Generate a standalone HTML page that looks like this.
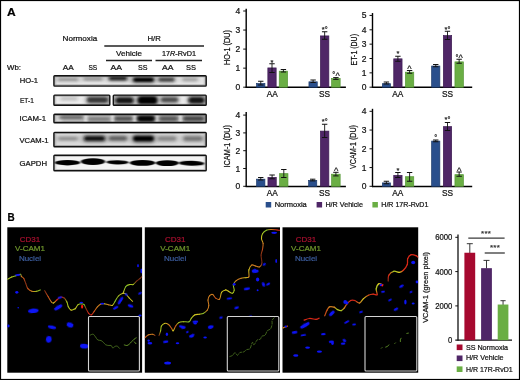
<!DOCTYPE html>
<html lang="en"><head><meta charset="utf-8"><title>Figure</title>
<style>html,body{margin:0;padding:0;background:#fff;}body{width:520px;height:380px;overflow:hidden;}svg{display:block;}text{font-family:"Liberation Sans",sans-serif;stroke-width:0.22px;}</style>
</head><body>
<svg width="520" height="380" viewBox="0 0 520 380">
<defs>
<filter id="b1" x="-20%" y="-50%" width="140%" height="200%"><feGaussianBlur stdDeviation="1.6 0.9"/></filter>
<filter id="b2" x="-20%" y="-50%" width="140%" height="200%"><feGaussianBlur stdDeviation="1.0 0.6"/></filter>
<filter id="b3" x="-20%" y="-50%" width="140%" height="200%"><feGaussianBlur stdDeviation="2.2 1.2"/></filter>
<filter id="bn" x="-30%" y="-30%" width="160%" height="160%"><feGaussianBlur stdDeviation="0.5"/></filter>
<filter id="bw" x="-10%" y="-10%" width="120%" height="120%"><feGaussianBlur stdDeviation="0.35"/></filter>
</defs>
<rect x="0.00" y="0.00" width="520.00" height="380.00" fill="#fff" />
<text x="7.0" y="16.2" font-size="11.6" font-weight="bold" fill="#000" stroke="#000" stroke-width="0.45" textLength="8.7" lengthAdjust="spacingAndGlyphs">A</text>
<text x="62.60" y="41.00" font-size="7.5" fill="#111" stroke="#111" textLength="34.60" lengthAdjust="spacingAndGlyphs" >Normoxia</text>
<text x="147.50" y="41.00" font-size="7.5" fill="#111" stroke="#111" textLength="13.30" lengthAdjust="spacingAndGlyphs" >H/R</text>
<line x1="104.30" y1="45.90" x2="204.00" y2="45.90" stroke="#222" stroke-width="1.5"/>
<text x="116.00" y="56.00" font-size="7.5" fill="#111" stroke="#111" textLength="26.00" lengthAdjust="spacingAndGlyphs" >Vehicle</text>
<text x="162" y="56" font-size="7.5" fill="#111" stroke="#111" textLength="34" lengthAdjust="spacingAndGlyphs">17<tspan font-style="italic">R</tspan>-RvD1</text>
<line x1="106.00" y1="60.50" x2="152.00" y2="60.50" stroke="#222" stroke-width="1.3"/>
<line x1="155.50" y1="60.50" x2="202.00" y2="60.50" stroke="#222" stroke-width="1.3"/>
<text x="7.00" y="70.30" font-size="7.5" fill="#111" stroke="#111" textLength="14.00" lengthAdjust="spacingAndGlyphs" >Wb:</text>
<text x="62.80" y="70.30" font-size="7.5" fill="#111" stroke="#111" textLength="11.00" lengthAdjust="spacingAndGlyphs" >AA</text>
<text x="88.40" y="70.30" font-size="7.5" fill="#111" stroke="#111" textLength="8.80" lengthAdjust="spacingAndGlyphs" >SS</text>
<text x="110.50" y="70.30" font-size="7.5" fill="#111" stroke="#111" textLength="11.50" lengthAdjust="spacingAndGlyphs" >AA</text>
<text x="138.00" y="70.30" font-size="7.5" fill="#111" stroke="#111" textLength="9.50" lengthAdjust="spacingAndGlyphs" >SS</text>
<text x="162.00" y="70.30" font-size="7.5" fill="#111" stroke="#111" textLength="11.50" lengthAdjust="spacingAndGlyphs" >AA</text>
<text x="186.00" y="70.30" font-size="7.5" fill="#111" stroke="#111" textLength="10.00" lengthAdjust="spacingAndGlyphs" >SS</text>
<text x="19.80" y="82.90" font-size="7.5" fill="#111" stroke="#111" textLength="18.20" lengthAdjust="spacingAndGlyphs" >HO-1</text>
<text x="20.00" y="102.90" font-size="7.5" fill="#111" stroke="#111" textLength="13.80" lengthAdjust="spacingAndGlyphs" >ET-1</text>
<text x="19.50" y="121.20" font-size="7.5" fill="#111" stroke="#111" textLength="26.50" lengthAdjust="spacingAndGlyphs" >ICAM-1</text>
<text x="19.50" y="143.00" font-size="7.5" fill="#111" stroke="#111" textLength="29.00" lengthAdjust="spacingAndGlyphs" >VCAM-1</text>
<text x="19.50" y="165.50" font-size="7.5" fill="#111" stroke="#111" textLength="27.50" lengthAdjust="spacingAndGlyphs" >GAPDH</text>
<clipPath id="cho"><rect x="53.9" y="75.8" width="152.29999999999998" height="10.3" rx="0.8"/></clipPath>
<rect x="53.9" y="75.8" width="152.29999999999998" height="10.3" rx="0.8" fill="#e6e6e6"/>
<g clip-path="url(#cho)">
<rect x="55.50" y="76.40" width="25.00" height="6.00" rx="3.00" fill="#444" opacity="0.15" filter="url(#b3)"/>
<rect x="58.00" y="77.90" width="20.00" height="3.00" rx="1.50" fill="#555" opacity="0.42" filter="url(#b1)"/>
<rect x="81.12" y="76.20" width="23.75" height="5.60" rx="2.80" fill="#444" opacity="0.16" filter="url(#b3)"/>
<rect x="83.50" y="77.60" width="19.00" height="2.80" rx="1.40" fill="#555" opacity="0.45" filter="url(#b1)"/>
<rect x="106.75" y="74.60" width="22.50" height="7.60" rx="3.80" fill="#444" opacity="0.32" filter="url(#b3)"/>
<rect x="109.00" y="76.50" width="18.00" height="3.80" rx="1.90" fill="#111" opacity="0.9" filter="url(#b1)"/>
<rect x="130.38" y="75.20" width="26.25" height="9.20" rx="4.60" fill="#444" opacity="0.35" filter="url(#b3)"/>
<rect x="133.00" y="77.50" width="21.00" height="4.60" rx="2.30" fill="#000" opacity="1" filter="url(#b1)"/>
<rect x="156.50" y="76.00" width="20.00" height="7.20" rx="3.60" fill="#444" opacity="0.28" filter="url(#b3)"/>
<rect x="158.50" y="77.80" width="16.00" height="3.60" rx="1.80" fill="#222" opacity="0.8" filter="url(#b1)"/>
<rect x="180.62" y="76.40" width="18.75" height="6.00" rx="3.00" fill="#444" opacity="0.14" filter="url(#b3)"/>
<rect x="182.50" y="77.90" width="15.00" height="3.00" rx="1.50" fill="#666" opacity="0.4" filter="url(#b1)"/>
<rect x="53.9" y="75.8" width="152.29999999999998" height="10.3" rx="0.8" fill="none" stroke="#222" stroke-width="3" opacity="0.35" filter="url(#b2)"/>
</g>
<rect x="53.9" y="75.8" width="152.29999999999998" height="10.3" rx="0.8" fill="none" stroke="#111" stroke-width="1.4"/>
<clipPath id="cet1"><rect x="53.9" y="95.1" width="55.9" height="10.2" rx="0.8"/></clipPath>
<rect x="53.9" y="95.1" width="55.9" height="10.2" rx="0.8" fill="#efefef"/>
<g clip-path="url(#cet1)">
<rect x="59.00" y="95.80" width="20.00" height="6.00" rx="3.00" fill="#444" opacity="0.10" filter="url(#b3)"/>
<rect x="61.00" y="97.30" width="16.00" height="3.00" rx="1.50" fill="#888" opacity="0.3" filter="url(#b1)"/>
<rect x="84.38" y="94.30" width="26.25" height="11.20" rx="5.60" fill="#444" opacity="0.30" filter="url(#b3)"/>
<rect x="87.00" y="97.10" width="21.00" height="5.60" rx="2.80" fill="#222" opacity="0.85" filter="url(#b1)"/>
<rect x="53.9" y="95.1" width="55.9" height="10.2" rx="0.8" fill="none" stroke="#222" stroke-width="3" opacity="0.35" filter="url(#b2)"/>
</g>
<rect x="53.9" y="95.1" width="55.9" height="10.2" rx="0.8" fill="none" stroke="#111" stroke-width="1.4"/>
<clipPath id="cet2"><rect x="113.3" y="95.1" width="92.89999999999999" height="10.2" rx="0.8"/></clipPath>
<rect x="113.3" y="95.1" width="92.89999999999999" height="10.2" rx="0.8" fill="#eeeeee"/>
<g clip-path="url(#cet2)">
<rect x="113.25" y="94.00" width="22.50" height="12.80" rx="6.40" fill="#444" opacity="0.33" filter="url(#b3)"/>
<rect x="115.50" y="97.20" width="18.00" height="6.40" rx="3.20" fill="#111" opacity="0.95" filter="url(#b1)"/>
<rect x="135.00" y="92.40" width="25.00" height="15.60" rx="7.80" fill="#444" opacity="0.35" filter="url(#b3)"/>
<rect x="137.50" y="96.30" width="20.00" height="7.80" rx="3.90" fill="#000" opacity="1" filter="url(#b1)"/>
<rect x="158.88" y="94.80" width="21.25" height="10.00" rx="5.00" fill="#444" opacity="0.28" filter="url(#b3)"/>
<rect x="161.00" y="97.30" width="17.00" height="5.00" rx="2.50" fill="#333" opacity="0.8" filter="url(#b1)"/>
<rect x="186.50" y="93.60" width="20.00" height="13.20" rx="6.60" fill="#444" opacity="0.33" filter="url(#b3)"/>
<rect x="188.50" y="96.90" width="16.00" height="6.60" rx="3.30" fill="#111" opacity="0.95" filter="url(#b1)"/>
<rect x="113.3" y="95.1" width="92.89999999999999" height="10.2" rx="0.8" fill="none" stroke="#222" stroke-width="3" opacity="0.35" filter="url(#b2)"/>
</g>
<rect x="113.3" y="95.1" width="92.89999999999999" height="10.2" rx="0.8" fill="none" stroke="#111" stroke-width="1.4"/>
<clipPath id="cic"><rect x="53.9" y="114.3" width="152.29999999999998" height="8.4" rx="0.8"/></clipPath>
<rect x="53.9" y="114.3" width="152.29999999999998" height="8.4" rx="0.8" fill="#c2c2c2"/>
<g clip-path="url(#cic)">
<rect x="84.30000000000001" y="113" width="3.2" height="11" fill="#f4f4f4" opacity="0.9" filter="url(#b2)"/>
<rect x="111.10000000000001" y="113" width="3.2" height="11" fill="#f4f4f4" opacity="0.9" filter="url(#b2)"/>
<rect x="133.1" y="113" width="3.2" height="11" fill="#f4f4f4" opacity="0.9" filter="url(#b2)"/>
<rect x="155.20000000000002" y="113" width="3.2" height="11" fill="#f4f4f4" opacity="0.9" filter="url(#b2)"/>
<rect x="178.9" y="113" width="3.2" height="11" fill="#f4f4f4" opacity="0.9" filter="url(#b2)"/>
<rect x="53" y="113" width="9" height="11" fill="#f0f0f0" opacity="0.7" filter="url(#b1)"/>
<rect x="56.00" y="114.00" width="30.00" height="6.80" rx="3.40" fill="#444" opacity="0.11" filter="url(#b3)"/>
<rect x="59.00" y="115.70" width="24.00" height="3.40" rx="1.70" fill="#333" opacity="0.55" filter="url(#b1)"/>
<rect x="85.25" y="115.40" width="27.50" height="7.20" rx="3.60" fill="#444" opacity="0.10" filter="url(#b3)"/>
<rect x="88.00" y="117.20" width="22.00" height="3.60" rx="1.80" fill="#444" opacity="0.5" filter="url(#b1)"/>
<rect x="112.25" y="114.20" width="22.50" height="8.80" rx="4.40" fill="#444" opacity="0.14" filter="url(#b3)"/>
<rect x="114.50" y="116.40" width="18.00" height="4.40" rx="2.20" fill="#2a2a2a" opacity="0.7" filter="url(#b1)"/>
<rect x="134.75" y="112.40" width="22.50" height="12.40" rx="6.20" fill="#444" opacity="0.19" filter="url(#b3)"/>
<rect x="137.00" y="115.50" width="18.00" height="6.20" rx="3.10" fill="#000" opacity="0.97" filter="url(#b1)"/>
<rect x="156.62" y="114.00" width="23.75" height="9.20" rx="4.60" fill="#444" opacity="0.13" filter="url(#b3)"/>
<rect x="159.00" y="116.30" width="19.00" height="4.60" rx="2.30" fill="#2a2a2a" opacity="0.65" filter="url(#b1)"/>
<rect x="180.38" y="113.80" width="26.25" height="9.60" rx="4.80" fill="#444" opacity="0.14" filter="url(#b3)"/>
<rect x="183.00" y="116.20" width="21.00" height="4.80" rx="2.40" fill="#222" opacity="0.72" filter="url(#b1)"/>
<rect x="53.9" y="114.3" width="152.29999999999998" height="8.4" rx="0.8" fill="none" stroke="#222" stroke-width="3" opacity="0.4" filter="url(#b2)"/>
</g>
<rect x="53.9" y="114.3" width="152.29999999999998" height="8.4" rx="0.8" fill="none" stroke="#111" stroke-width="1.4"/>
<clipPath id="cvc"><rect x="53.9" y="132.4" width="152.29999999999998" height="14.4" rx="0.8"/></clipPath>
<rect x="53.9" y="132.4" width="152.29999999999998" height="14.4" rx="0.8" fill="#dadada"/>
<g clip-path="url(#cvc)">
<rect x="56.12" y="135.40" width="23.75" height="6.40" rx="3.20" fill="#444" opacity="0.17" filter="url(#b3)"/>
<rect x="58.50" y="137.00" width="19.00" height="3.20" rx="1.60" fill="#666" opacity="0.5" filter="url(#b1)"/>
<rect x="81.38" y="133.60" width="26.25" height="10.00" rx="5.00" fill="#444" opacity="0.33" filter="url(#b3)"/>
<rect x="84.00" y="136.10" width="21.00" height="5.00" rx="2.50" fill="#111" opacity="0.95" filter="url(#b1)"/>
<rect x="106.75" y="134.20" width="22.50" height="8.40" rx="4.20" fill="#444" opacity="0.26" filter="url(#b3)"/>
<rect x="109.00" y="136.30" width="18.00" height="4.20" rx="2.10" fill="#444" opacity="0.75" filter="url(#b1)"/>
<rect x="130.38" y="133.00" width="26.25" height="11.20" rx="5.60" fill="#444" opacity="0.35" filter="url(#b3)"/>
<rect x="133.00" y="135.80" width="21.00" height="5.60" rx="2.80" fill="#000" opacity="1" filter="url(#b1)"/>
<rect x="155.75" y="134.80" width="22.50" height="7.60" rx="3.80" fill="#444" opacity="0.21" filter="url(#b3)"/>
<rect x="158.00" y="136.70" width="18.00" height="3.80" rx="1.90" fill="#666" opacity="0.6" filter="url(#b1)"/>
<rect x="181.12" y="134.40" width="23.75" height="8.40" rx="4.20" fill="#444" opacity="0.23" filter="url(#b3)"/>
<rect x="183.50" y="136.50" width="19.00" height="4.20" rx="2.10" fill="#555" opacity="0.65" filter="url(#b1)"/>
<rect x="53.9" y="132.4" width="152.29999999999998" height="14.4" rx="0.8" fill="none" stroke="#222" stroke-width="3" opacity="0.35" filter="url(#b2)"/>
</g>
<rect x="53.9" y="132.4" width="152.29999999999998" height="14.4" rx="0.8" fill="none" stroke="#111" stroke-width="1.4"/>
<clipPath id="cga"><rect x="53.9" y="155.2" width="152.29999999999998" height="15.6" rx="0.8"/></clipPath>
<rect x="53.9" y="155.2" width="152.29999999999998" height="15.6" rx="0.8" fill="#f3f3f3"/>
<g clip-path="url(#cga)">
<rect x="53.9" y="155.2" width="152.29999999999998" height="15.6" rx="0.8" fill="none" stroke="#222" stroke-width="3" opacity="0.3" filter="url(#b2)"/>
<ellipse cx="67.5" cy="162.7" rx="12.6" ry="2.7" fill="#000" transform="rotate(0 67.5 162.7)" filter="url(#b2)"/>
<ellipse cx="93" cy="161.6" rx="12.2" ry="3.4" fill="#000" transform="rotate(0 93 161.6)" filter="url(#b2)"/>
<ellipse cx="117.5" cy="162.3" rx="11.4" ry="2.1" fill="#000" transform="rotate(1 117.5 162.3)" filter="url(#b2)"/>
<ellipse cx="142.5" cy="162.9" rx="12.8" ry="2.9" fill="#000" transform="rotate(0 142.5 162.9)" filter="url(#b2)"/>
<ellipse cx="167.3" cy="163.1" rx="11.8" ry="2.9" fill="#000" transform="rotate(0 167.3 163.1)" filter="url(#b2)"/>
<ellipse cx="191.6" cy="163.3" rx="12.8" ry="2.5" fill="#000" transform="rotate(1.5 191.6 163.3)" filter="url(#b2)"/>
</g>
<rect x="53.9" y="155.2" width="152.29999999999998" height="15.6" rx="0.8" fill="none" stroke="#111" stroke-width="1.4"/>
<line x1="246.20" y1="8.80" x2="246.20" y2="88.00" stroke="#000" stroke-width="1.4"/>
<line x1="245.60" y1="87.35" x2="345.90" y2="87.35" stroke="#000" stroke-width="1.5"/>
<line x1="243.20" y1="87.20" x2="246.20" y2="87.20" stroke="#111" stroke-width="1"/>
<text x="240.30" y="90.20" font-size="8.5" fill="#111" stroke="#111" text-anchor="end">0</text>
<line x1="243.20" y1="68.15" x2="246.20" y2="68.15" stroke="#111" stroke-width="1"/>
<text x="240.30" y="71.15" font-size="8.5" fill="#111" stroke="#111" text-anchor="end">1</text>
<line x1="243.20" y1="49.10" x2="246.20" y2="49.10" stroke="#111" stroke-width="1"/>
<text x="240.30" y="52.10" font-size="8.5" fill="#111" stroke="#111" text-anchor="end">2</text>
<line x1="243.20" y1="30.05" x2="246.20" y2="30.05" stroke="#111" stroke-width="1"/>
<text x="240.30" y="33.05" font-size="8.5" fill="#111" stroke="#111" text-anchor="end">3</text>
<line x1="243.20" y1="11.00" x2="246.20" y2="11.00" stroke="#111" stroke-width="1"/>
<text x="240.30" y="14.00" font-size="8.5" fill="#111" stroke="#111" text-anchor="end">4</text>
<rect x="256.60" y="83.55" width="8.30" height="3.65" fill="#2a4f8c" stroke="#1d3a6a" stroke-width="0.7"/>
<line x1="260.75" y1="81.25" x2="260.75" y2="85.00" stroke="#111" stroke-width="0.9"/>
<line x1="258.05" y1="81.25" x2="263.45" y2="81.25" stroke="#111" stroke-width="1.0"/>
<line x1="258.05" y1="85.00" x2="263.45" y2="85.00" stroke="#111" stroke-width="1.0"/>
<rect x="267.85" y="67.93" width="8.30" height="19.27" fill="#4f2667" stroke="#3b1a50" stroke-width="0.7"/>
<line x1="272.00" y1="63.75" x2="272.00" y2="72.50" stroke="#111" stroke-width="0.9"/>
<line x1="269.30" y1="63.75" x2="274.70" y2="63.75" stroke="#111" stroke-width="1.0"/>
<line x1="269.30" y1="72.50" x2="274.70" y2="72.50" stroke="#111" stroke-width="1.0"/>
<rect x="279.25" y="71.17" width="8.30" height="16.03" fill="#6aae44" stroke="#559636" stroke-width="0.7"/>
<line x1="283.40" y1="69.50" x2="283.40" y2="72.00" stroke="#111" stroke-width="0.9"/>
<line x1="280.70" y1="69.50" x2="286.10" y2="69.50" stroke="#111" stroke-width="1.0"/>
<line x1="280.70" y1="72.00" x2="286.10" y2="72.00" stroke="#111" stroke-width="1.0"/>
<rect x="308.95" y="81.83" width="8.30" height="5.37" fill="#2a4f8c" stroke="#1d3a6a" stroke-width="0.7"/>
<line x1="313.10" y1="80.00" x2="313.10" y2="82.50" stroke="#111" stroke-width="0.9"/>
<line x1="310.40" y1="80.00" x2="315.80" y2="80.00" stroke="#111" stroke-width="1.0"/>
<line x1="310.40" y1="82.50" x2="315.80" y2="82.50" stroke="#111" stroke-width="1.0"/>
<rect x="320.45" y="35.92" width="8.40" height="51.28" fill="#4f2667" stroke="#3b1a50" stroke-width="0.7"/>
<line x1="324.65" y1="31.75" x2="324.65" y2="39.25" stroke="#111" stroke-width="0.9"/>
<line x1="321.95" y1="31.75" x2="327.35" y2="31.75" stroke="#111" stroke-width="1.0"/>
<line x1="321.95" y1="39.25" x2="327.35" y2="39.25" stroke="#111" stroke-width="1.0"/>
<rect x="331.65" y="78.60" width="8.50" height="8.60" fill="#6aae44" stroke="#559636" stroke-width="0.7"/>
<line x1="335.90" y1="77.60" x2="335.90" y2="79.40" stroke="#111" stroke-width="0.9"/>
<line x1="333.20" y1="77.60" x2="338.60" y2="77.60" stroke="#111" stroke-width="1.0"/>
<line x1="333.20" y1="79.40" x2="338.60" y2="79.40" stroke="#111" stroke-width="1.0"/>
<text transform="translate(230.00,65.00) rotate(-90)" font-size="8.5" fill="#111" stroke="#111" textLength="35.00" lengthAdjust="spacingAndGlyphs">HO-1 (DU)</text>
<text x="272.20" y="97.20" font-size="8.3" fill="#111" stroke="#111" text-anchor="middle" >AA</text>
<text x="324.60" y="97.20" font-size="8.3" fill="#111" stroke="#111" text-anchor="middle" >SS</text>
<text x="272.00" y="64.50" font-size="7.4" fill="#222" stroke="#222" stroke-width="0.12" text-anchor="middle" letter-spacing="0.2">*</text>
<text x="324.80" y="31.50" font-size="7.4" fill="#222" stroke="#222" stroke-width="0.12" text-anchor="middle" letter-spacing="0.2">*°</text>
<text x="336.20" y="77.00" font-size="7.4" fill="#222" stroke="#222" stroke-width="0.12" text-anchor="middle" letter-spacing="0.2">°<tspan font-size="9.2" dy="1.6">^</tspan></text>
<line x1="372.50" y1="13.05" x2="372.50" y2="88.00" stroke="#000" stroke-width="1.4"/>
<line x1="371.90" y1="87.35" x2="472.20" y2="87.35" stroke="#000" stroke-width="1.5"/>
<line x1="369.50" y1="87.20" x2="372.50" y2="87.20" stroke="#111" stroke-width="1"/>
<text x="366.50" y="90.20" font-size="8.5" fill="#111" stroke="#111" text-anchor="end">0</text>
<line x1="369.50" y1="72.85" x2="372.50" y2="72.85" stroke="#111" stroke-width="1"/>
<text x="366.50" y="75.85" font-size="8.5" fill="#111" stroke="#111" text-anchor="end">1</text>
<line x1="369.50" y1="58.50" x2="372.50" y2="58.50" stroke="#111" stroke-width="1"/>
<text x="366.50" y="61.50" font-size="8.5" fill="#111" stroke="#111" text-anchor="end">2</text>
<line x1="369.50" y1="44.15" x2="372.50" y2="44.15" stroke="#111" stroke-width="1"/>
<text x="366.50" y="47.15" font-size="8.5" fill="#111" stroke="#111" text-anchor="end">3</text>
<line x1="369.50" y1="29.80" x2="372.50" y2="29.80" stroke="#111" stroke-width="1"/>
<text x="366.50" y="32.80" font-size="8.5" fill="#111" stroke="#111" text-anchor="end">4</text>
<line x1="369.50" y1="15.45" x2="372.50" y2="15.45" stroke="#111" stroke-width="1"/>
<text x="366.50" y="18.45" font-size="8.5" fill="#111" stroke="#111" text-anchor="end">5</text>
<rect x="382.35" y="83.68" width="8.10" height="3.52" fill="#2a4f8c" stroke="#1d3a6a" stroke-width="0.7"/>
<line x1="386.40" y1="82.00" x2="386.40" y2="84.00" stroke="#111" stroke-width="0.9"/>
<line x1="383.70" y1="82.00" x2="389.10" y2="82.00" stroke="#111" stroke-width="1.0"/>
<line x1="383.70" y1="84.00" x2="389.10" y2="84.00" stroke="#111" stroke-width="1.0"/>
<rect x="393.75" y="58.85" width="8.30" height="28.35" fill="#4f2667" stroke="#3b1a50" stroke-width="0.7"/>
<line x1="397.90" y1="56.25" x2="397.90" y2="61.25" stroke="#111" stroke-width="0.9"/>
<line x1="395.20" y1="56.25" x2="400.60" y2="56.25" stroke="#111" stroke-width="1.0"/>
<line x1="395.20" y1="61.25" x2="400.60" y2="61.25" stroke="#111" stroke-width="1.0"/>
<rect x="405.45" y="72.20" width="8.30" height="15.00" fill="#6aae44" stroke="#559636" stroke-width="0.7"/>
<line x1="409.60" y1="70.50" x2="409.60" y2="73.25" stroke="#111" stroke-width="0.9"/>
<line x1="406.90" y1="70.50" x2="412.30" y2="70.50" stroke="#111" stroke-width="1.0"/>
<line x1="406.90" y1="73.25" x2="412.30" y2="73.25" stroke="#111" stroke-width="1.0"/>
<rect x="431.65" y="66.03" width="8.20" height="21.17" fill="#2a4f8c" stroke="#1d3a6a" stroke-width="0.7"/>
<line x1="435.75" y1="64.50" x2="435.75" y2="66.75" stroke="#111" stroke-width="0.9"/>
<line x1="433.05" y1="64.50" x2="438.45" y2="64.50" stroke="#111" stroke-width="1.0"/>
<line x1="433.05" y1="66.75" x2="438.45" y2="66.75" stroke="#111" stroke-width="1.0"/>
<rect x="443.35" y="35.60" width="8.30" height="51.60" fill="#4f2667" stroke="#3b1a50" stroke-width="0.7"/>
<line x1="447.50" y1="31.25" x2="447.50" y2="39.50" stroke="#111" stroke-width="0.9"/>
<line x1="444.80" y1="31.25" x2="450.20" y2="31.25" stroke="#111" stroke-width="1.0"/>
<line x1="444.80" y1="39.50" x2="450.20" y2="39.50" stroke="#111" stroke-width="1.0"/>
<rect x="454.95" y="61.86" width="8.40" height="25.34" fill="#6aae44" stroke="#559636" stroke-width="0.7"/>
<line x1="459.15" y1="59.25" x2="459.15" y2="63.25" stroke="#111" stroke-width="0.9"/>
<line x1="456.45" y1="59.25" x2="461.85" y2="59.25" stroke="#111" stroke-width="1.0"/>
<line x1="456.45" y1="63.25" x2="461.85" y2="63.25" stroke="#111" stroke-width="1.0"/>
<text transform="translate(356.60,65.50) rotate(-90)" font-size="8.5" fill="#111" stroke="#111" textLength="31.50" lengthAdjust="spacingAndGlyphs">ET-1 (DU)</text>
<text x="397.80" y="97.20" font-size="8.3" fill="#111" stroke="#111" text-anchor="middle" >AA</text>
<text x="447.60" y="97.20" font-size="8.3" fill="#111" stroke="#111" text-anchor="middle" >SS</text>
<text x="398.00" y="56.00" font-size="7.4" fill="#222" stroke="#222" stroke-width="0.12" text-anchor="middle" letter-spacing="0.2">*</text>
<text x="409.60" y="70.50" font-size="7.4" fill="#222" stroke="#222" stroke-width="0.12" text-anchor="middle" letter-spacing="0.2"><tspan font-size="9.2" dy="1.6">^</tspan></text>
<text x="447.50" y="31.50" font-size="7.4" fill="#222" stroke="#222" stroke-width="0.12" text-anchor="middle" letter-spacing="0.2">*°</text>
<text x="459.30" y="59.50" font-size="7.4" fill="#222" stroke="#222" stroke-width="0.12" text-anchor="middle" letter-spacing="0.2">°<tspan font-size="9.2" dy="1.6">^</tspan></text>
<line x1="246.20" y1="112.10" x2="246.20" y2="187.10" stroke="#000" stroke-width="1.4"/>
<line x1="245.60" y1="186.45" x2="345.90" y2="186.45" stroke="#000" stroke-width="1.5"/>
<line x1="243.20" y1="186.30" x2="246.20" y2="186.30" stroke="#111" stroke-width="1"/>
<text x="240.30" y="189.30" font-size="8.5" fill="#111" stroke="#111" text-anchor="end">0</text>
<line x1="243.20" y1="168.50" x2="246.20" y2="168.50" stroke="#111" stroke-width="1"/>
<text x="240.30" y="171.50" font-size="8.5" fill="#111" stroke="#111" text-anchor="end">1</text>
<line x1="243.20" y1="150.70" x2="246.20" y2="150.70" stroke="#111" stroke-width="1"/>
<text x="240.30" y="153.70" font-size="8.5" fill="#111" stroke="#111" text-anchor="end">2</text>
<line x1="243.20" y1="132.90" x2="246.20" y2="132.90" stroke="#111" stroke-width="1"/>
<text x="240.30" y="135.90" font-size="8.5" fill="#111" stroke="#111" text-anchor="end">3</text>
<line x1="243.20" y1="115.10" x2="246.20" y2="115.10" stroke="#111" stroke-width="1"/>
<text x="240.30" y="118.10" font-size="8.5" fill="#111" stroke="#111" text-anchor="end">4</text>
<rect x="256.60" y="179.17" width="8.30" height="7.13" fill="#2a4f8c" stroke="#1d3a6a" stroke-width="0.7"/>
<line x1="260.75" y1="177.50" x2="260.75" y2="180.00" stroke="#111" stroke-width="0.9"/>
<line x1="258.05" y1="177.50" x2="263.45" y2="177.50" stroke="#111" stroke-width="1.0"/>
<line x1="258.05" y1="180.00" x2="263.45" y2="180.00" stroke="#111" stroke-width="1.0"/>
<rect x="267.95" y="177.39" width="8.30" height="8.91" fill="#4f2667" stroke="#3b1a50" stroke-width="0.7"/>
<line x1="272.10" y1="175.00" x2="272.10" y2="178.75" stroke="#111" stroke-width="0.9"/>
<line x1="269.40" y1="175.00" x2="274.80" y2="175.00" stroke="#111" stroke-width="1.0"/>
<line x1="269.40" y1="178.75" x2="274.80" y2="178.75" stroke="#111" stroke-width="1.0"/>
<rect x="279.65" y="173.66" width="8.30" height="12.64" fill="#6aae44" stroke="#559636" stroke-width="0.7"/>
<line x1="283.80" y1="169.50" x2="283.80" y2="177.50" stroke="#111" stroke-width="0.9"/>
<line x1="281.10" y1="169.50" x2="286.50" y2="169.50" stroke="#111" stroke-width="1.0"/>
<line x1="281.10" y1="177.50" x2="286.50" y2="177.50" stroke="#111" stroke-width="1.0"/>
<rect x="308.65" y="180.42" width="8.10" height="5.88" fill="#2a4f8c" stroke="#1d3a6a" stroke-width="0.7"/>
<line x1="312.70" y1="179.20" x2="312.70" y2="180.90" stroke="#111" stroke-width="0.9"/>
<line x1="310.00" y1="179.20" x2="315.40" y2="179.20" stroke="#111" stroke-width="1.0"/>
<line x1="310.00" y1="180.90" x2="315.40" y2="180.90" stroke="#111" stroke-width="1.0"/>
<rect x="320.45" y="131.11" width="8.40" height="55.19" fill="#4f2667" stroke="#3b1a50" stroke-width="0.7"/>
<line x1="324.65" y1="124.25" x2="324.65" y2="137.50" stroke="#111" stroke-width="0.9"/>
<line x1="321.95" y1="124.25" x2="327.35" y2="124.25" stroke="#111" stroke-width="1.0"/>
<line x1="321.95" y1="137.50" x2="327.35" y2="137.50" stroke="#111" stroke-width="1.0"/>
<rect x="331.65" y="174.19" width="8.50" height="12.11" fill="#6aae44" stroke="#559636" stroke-width="0.7"/>
<line x1="335.90" y1="172.30" x2="335.90" y2="175.90" stroke="#111" stroke-width="0.9"/>
<line x1="333.20" y1="172.30" x2="338.60" y2="172.30" stroke="#111" stroke-width="1.0"/>
<line x1="333.20" y1="175.90" x2="338.60" y2="175.90" stroke="#111" stroke-width="1.0"/>
<text transform="translate(229.90,167.50) rotate(-90)" font-size="8.5" fill="#111" stroke="#111" textLength="42.50" lengthAdjust="spacingAndGlyphs">ICAM-1 (DU)</text>
<text x="272.20" y="196.30" font-size="8.3" fill="#111" stroke="#111" text-anchor="middle" >AA</text>
<text x="324.60" y="196.30" font-size="8.3" fill="#111" stroke="#111" text-anchor="middle" >SS</text>
<text x="324.80" y="124.00" font-size="7.4" fill="#222" stroke="#222" stroke-width="0.12" text-anchor="middle" letter-spacing="0.2">*°</text>
<text x="336.30" y="172.00" font-size="7.4" fill="#222" stroke="#222" stroke-width="0.12" text-anchor="middle" letter-spacing="0.2"><tspan font-size="9.2" dy="1.6">^</tspan></text>
<line x1="372.50" y1="108.80" x2="372.50" y2="187.10" stroke="#000" stroke-width="1.4"/>
<line x1="371.90" y1="186.45" x2="472.20" y2="186.45" stroke="#000" stroke-width="1.5"/>
<line x1="369.50" y1="186.30" x2="372.50" y2="186.30" stroke="#111" stroke-width="1"/>
<text x="366.50" y="189.30" font-size="8.5" fill="#111" stroke="#111" text-anchor="end">0</text>
<line x1="369.50" y1="167.55" x2="372.50" y2="167.55" stroke="#111" stroke-width="1"/>
<text x="366.50" y="170.55" font-size="8.5" fill="#111" stroke="#111" text-anchor="end">1</text>
<line x1="369.50" y1="148.80" x2="372.50" y2="148.80" stroke="#111" stroke-width="1"/>
<text x="366.50" y="151.80" font-size="8.5" fill="#111" stroke="#111" text-anchor="end">2</text>
<line x1="369.50" y1="130.05" x2="372.50" y2="130.05" stroke="#111" stroke-width="1"/>
<text x="366.50" y="133.05" font-size="8.5" fill="#111" stroke="#111" text-anchor="end">3</text>
<line x1="369.50" y1="111.30" x2="372.50" y2="111.30" stroke="#111" stroke-width="1"/>
<text x="366.50" y="114.30" font-size="8.5" fill="#111" stroke="#111" text-anchor="end">4</text>
<rect x="382.35" y="182.90" width="8.10" height="3.40" fill="#2a4f8c" stroke="#1d3a6a" stroke-width="0.7"/>
<line x1="386.40" y1="181.25" x2="386.40" y2="183.75" stroke="#111" stroke-width="0.9"/>
<line x1="383.70" y1="181.25" x2="389.10" y2="181.25" stroke="#111" stroke-width="1.0"/>
<line x1="383.70" y1="183.75" x2="389.10" y2="183.75" stroke="#111" stroke-width="1.0"/>
<rect x="393.75" y="175.40" width="8.30" height="10.90" fill="#4f2667" stroke="#3b1a50" stroke-width="0.7"/>
<line x1="397.90" y1="172.50" x2="397.90" y2="177.50" stroke="#111" stroke-width="0.9"/>
<line x1="395.20" y1="172.50" x2="400.60" y2="172.50" stroke="#111" stroke-width="1.0"/>
<line x1="395.20" y1="177.50" x2="400.60" y2="177.50" stroke="#111" stroke-width="1.0"/>
<rect x="405.45" y="176.71" width="8.30" height="9.59" fill="#6aae44" stroke="#559636" stroke-width="0.7"/>
<line x1="409.60" y1="172.50" x2="409.60" y2="181.25" stroke="#111" stroke-width="0.9"/>
<line x1="406.90" y1="172.50" x2="412.30" y2="172.50" stroke="#111" stroke-width="1.0"/>
<line x1="406.90" y1="181.25" x2="412.30" y2="181.25" stroke="#111" stroke-width="1.0"/>
<rect x="431.65" y="141.09" width="8.20" height="45.21" fill="#2a4f8c" stroke="#1d3a6a" stroke-width="0.7"/>
<line x1="435.75" y1="140.00" x2="435.75" y2="141.75" stroke="#111" stroke-width="0.9"/>
<line x1="433.05" y1="140.00" x2="438.45" y2="140.00" stroke="#111" stroke-width="1.0"/>
<line x1="433.05" y1="141.75" x2="438.45" y2="141.75" stroke="#111" stroke-width="1.0"/>
<rect x="443.35" y="126.65" width="8.30" height="59.65" fill="#4f2667" stroke="#3b1a50" stroke-width="0.7"/>
<line x1="447.50" y1="122.50" x2="447.50" y2="130.50" stroke="#111" stroke-width="0.9"/>
<line x1="444.80" y1="122.50" x2="450.20" y2="122.50" stroke="#111" stroke-width="1.0"/>
<line x1="444.80" y1="130.50" x2="450.20" y2="130.50" stroke="#111" stroke-width="1.0"/>
<rect x="454.95" y="174.65" width="8.40" height="11.65" fill="#6aae44" stroke="#559636" stroke-width="0.7"/>
<line x1="459.15" y1="172.00" x2="459.15" y2="176.25" stroke="#111" stroke-width="0.9"/>
<line x1="456.45" y1="172.00" x2="461.85" y2="172.00" stroke="#111" stroke-width="1.0"/>
<line x1="456.45" y1="176.25" x2="461.85" y2="176.25" stroke="#111" stroke-width="1.0"/>
<text transform="translate(356.00,169.00) rotate(-90)" font-size="8.5" fill="#111" stroke="#111" textLength="44.00" lengthAdjust="spacingAndGlyphs">VCAM-1 (DU)</text>
<text x="397.80" y="196.30" font-size="8.3" fill="#111" stroke="#111" text-anchor="middle" >AA</text>
<text x="447.60" y="196.30" font-size="8.3" fill="#111" stroke="#111" text-anchor="middle" >SS</text>
<text x="398.00" y="172.50" font-size="7.4" fill="#222" stroke="#222" stroke-width="0.12" text-anchor="middle" letter-spacing="0.2">*</text>
<text x="435.80" y="140.00" font-size="7.4" fill="#222" stroke="#222" stroke-width="0.12" text-anchor="middle" letter-spacing="0.2">°</text>
<text x="447.50" y="122.00" font-size="7.4" fill="#222" stroke="#222" stroke-width="0.12" text-anchor="middle" letter-spacing="0.2">*°</text>
<text x="459.30" y="172.00" font-size="7.4" fill="#222" stroke="#222" stroke-width="0.12" text-anchor="middle" letter-spacing="0.2"><tspan font-size="9.2" dy="1.6">^</tspan></text>
<rect x="265.70" y="202.00" width="5.50" height="5.50" fill="#2a4f8c" />
<text x="274.70" y="207.20" font-size="7.5" fill="#111" stroke="#111" textLength="32.10" lengthAdjust="spacingAndGlyphs" >Normoxia</text>
<rect x="316.60" y="202.00" width="5.50" height="5.50" fill="#4f2667" />
<text x="325.40" y="207.20" font-size="7.5" fill="#111" stroke="#111" textLength="37.50" lengthAdjust="spacingAndGlyphs" >H/R Vehicle</text>
<rect x="372.40" y="202.00" width="5.50" height="5.50" fill="#6aae44" />
<text x="381.30" y="207.20" font-size="7.5" fill="#111" stroke="#111" textLength="47.10" lengthAdjust="spacingAndGlyphs" >H/R 17R-RvD1</text>
<text x="7.4" y="221.3" font-size="11.4" font-weight="bold" fill="#000" stroke="#000" stroke-width="0.45" textLength="7.2" lengthAdjust="spacingAndGlyphs">B</text>
<rect x="7.30" y="227.30" width="134.80" height="145.40" fill="#000" />
<clipPath id="p0"><rect x="7.3" y="227.3" width="134.8" height="145.4"/></clipPath>
<rect x="144.80" y="227.30" width="135.20" height="145.40" fill="#000" />
<clipPath id="p1"><rect x="144.8" y="227.3" width="135.2" height="145.4"/></clipPath>
<rect x="282.50" y="227.30" width="135.70" height="145.40" fill="#000" />
<clipPath id="p2"><rect x="282.5" y="227.3" width="135.7" height="145.4"/></clipPath>
<text x="30.00" y="241.50" font-size="8.0" fill="#a8102f" stroke="#a8102f" text-anchor="middle" >CD31</text>
<text x="30.00" y="251.40" font-size="8.0" fill="#6f962c" stroke="#6f962c" text-anchor="middle" >V-CAM1</text>
<text x="30.00" y="261.20" font-size="8.0" fill="#3c5c9c" stroke="#3c5c9c" text-anchor="middle" >Nuclei</text>
<text x="175.20" y="241.50" font-size="8.0" fill="#a8102f" stroke="#a8102f" text-anchor="middle" >CD31</text>
<text x="175.20" y="251.40" font-size="8.0" fill="#6f962c" stroke="#6f962c" text-anchor="middle" >V-CAM1</text>
<text x="175.20" y="261.20" font-size="8.0" fill="#3c5c9c" stroke="#3c5c9c" text-anchor="middle" >Nuclei</text>
<text x="306.00" y="241.50" font-size="8.0" fill="#a8102f" stroke="#a8102f" text-anchor="middle" >CD31</text>
<text x="306.00" y="251.40" font-size="8.0" fill="#6f962c" stroke="#6f962c" text-anchor="middle" >V-CAM1</text>
<text x="306.00" y="261.20" font-size="8.0" fill="#3c5c9c" stroke="#3c5c9c" text-anchor="middle" >Nuclei</text>
<g clip-path="url(#p0)">
<g filter="url(#bw)">
<linearGradient id="wg324" gradientUnits="userSpaceOnUse" x1="7.0" y1="279.5" x2="11.7" y2="277.1"><stop offset="0" stop-color="#a8c420"/><stop offset="1" stop-color="#a8c420"/></linearGradient>
<path d="M7.0,279.5 C7.8,279.1 10.2,277.7 11.7,277.1" fill="none" stroke="url(#wg324)" stroke-width="1.05" stroke-linecap="round"/>
<linearGradient id="wg326" gradientUnits="userSpaceOnUse" x1="11.7" y1="277.1" x2="15.8" y2="275.8"><stop offset="0" stop-color="#a8c420"/><stop offset="1" stop-color="#80bc28"/></linearGradient>
<path d="M11.7,277.1 C13.2,276.5 14.3,276.3 15.8,275.8" fill="none" stroke="url(#wg326)" stroke-width="1.05" stroke-linecap="round"/>
<linearGradient id="wg328" gradientUnits="userSpaceOnUse" x1="15.8" y1="275.8" x2="20.5" y2="274.2"><stop offset="0" stop-color="#80bc28"/><stop offset="1" stop-color="#80bc28"/></linearGradient>
<path d="M15.8,275.8 C17.3,275.3 19.6,274.1 20.5,274.2" fill="none" stroke="url(#wg328)" stroke-width="1.05" stroke-linecap="round"/>
<linearGradient id="wg330" gradientUnits="userSpaceOnUse" x1="20.5" y1="274.2" x2="21.4" y2="276.4"><stop offset="0" stop-color="#80bc28"/><stop offset="1" stop-color="#cc7c20"/></linearGradient>
<path d="M20.5,274.2 C21.4,274.3 20.8,275.7 21.4,276.4" fill="none" stroke="url(#wg330)" stroke-width="1.05" stroke-linecap="round"/>
<linearGradient id="wg332" gradientUnits="userSpaceOnUse" x1="21.4" y1="276.4" x2="23.8" y2="278.5"><stop offset="0" stop-color="#cc7c20"/><stop offset="1" stop-color="#c44c18"/></linearGradient>
<path d="M21.4,276.4 C21.9,277.1 23.1,277.3 23.8,278.5" fill="none" stroke="url(#wg332)" stroke-width="1.05" stroke-linecap="round"/>
<linearGradient id="wg334" gradientUnits="userSpaceOnUse" x1="23.8" y1="278.5" x2="25.9" y2="283.8"><stop offset="0" stop-color="#c44c18"/><stop offset="1" stop-color="#7c2c14"/></linearGradient>
<path d="M23.8,278.5 C24.6,279.7 25.2,282.1 25.9,283.8" fill="none" stroke="url(#wg334)" stroke-width="1.05" stroke-linecap="round"/>
<linearGradient id="wg336" gradientUnits="userSpaceOnUse" x1="25.9" y1="283.8" x2="27.9" y2="288.6"><stop offset="0" stop-color="#7c2c14"/><stop offset="1" stop-color="#c44c18"/></linearGradient>
<path d="M25.9,283.8 C26.6,285.5 26.9,287.4 27.9,288.6" fill="none" stroke="url(#wg336)" stroke-width="1.05" stroke-linecap="round"/>
<linearGradient id="wg338" gradientUnits="userSpaceOnUse" x1="27.9" y1="288.6" x2="31.9" y2="291.2"><stop offset="0" stop-color="#c44c18"/><stop offset="1" stop-color="#cc7c20"/></linearGradient>
<path d="M27.9,288.6 C28.9,289.8 30.4,290.8 31.9,291.2" fill="none" stroke="url(#wg338)" stroke-width="1.05" stroke-linecap="round"/>
<linearGradient id="wg340" gradientUnits="userSpaceOnUse" x1="31.9" y1="291.2" x2="36.6" y2="291.2"><stop offset="0" stop-color="#cc7c20"/><stop offset="1" stop-color="#a8c420"/></linearGradient>
<path d="M31.9,291.2 C33.4,291.6 35.2,291.4 36.6,291.2" fill="none" stroke="url(#wg340)" stroke-width="1.05" stroke-linecap="round"/>
<linearGradient id="wg342" gradientUnits="userSpaceOnUse" x1="36.6" y1="291.2" x2="40.3" y2="289.9"><stop offset="0" stop-color="#a8c420"/><stop offset="1" stop-color="#80bc28"/></linearGradient>
<path d="M36.6,291.2 C38.0,291.0 39.7,290.1 40.3,289.9" fill="none" stroke="url(#wg342)" stroke-width="1.05" stroke-linecap="round"/>
<linearGradient id="wg344" gradientUnits="userSpaceOnUse" x1="44.6" y1="290.6" x2="48.1" y2="296.6"><stop offset="0" stop-color="#7c2c14"/><stop offset="1" stop-color="#c44c18"/></linearGradient>
<path d="M44.6,290.6 C45.2,291.6 47.0,294.7 48.1,296.6" fill="none" stroke="url(#wg344)" stroke-width="1.05" stroke-linecap="round"/>
<linearGradient id="wg346" gradientUnits="userSpaceOnUse" x1="48.1" y1="296.6" x2="51.4" y2="302.0"><stop offset="0" stop-color="#c44c18"/><stop offset="1" stop-color="#cc7c20"/></linearGradient>
<path d="M48.1,296.6 C49.2,298.5 50.5,300.9 51.4,302.0" fill="none" stroke="url(#wg346)" stroke-width="1.05" stroke-linecap="round"/>
<linearGradient id="wg348" gradientUnits="userSpaceOnUse" x1="51.4" y1="302.0" x2="53.5" y2="303.0"><stop offset="0" stop-color="#cc7c20"/><stop offset="1" stop-color="#d0c420"/></linearGradient>
<path d="M51.4,302.0 C52.3,303.1 52.6,303.3 53.5,303.0" fill="none" stroke="url(#wg348)" stroke-width="1.05" stroke-linecap="round"/>
<linearGradient id="wg350" gradientUnits="userSpaceOnUse" x1="53.5" y1="303.0" x2="56.8" y2="300.0"><stop offset="0" stop-color="#d0c420"/><stop offset="1" stop-color="#d82818"/></linearGradient>
<path d="M53.5,303.0 C54.4,302.7 55.7,300.9 56.8,300.0" fill="none" stroke="url(#wg350)" stroke-width="1.05" stroke-linecap="round"/>
<linearGradient id="wg352" gradientUnits="userSpaceOnUse" x1="56.8" y1="300.0" x2="60.2" y2="297.3"><stop offset="0" stop-color="#d82818"/><stop offset="1" stop-color="#d82818"/></linearGradient>
<path d="M56.8,300.0 C57.9,299.1 59.0,297.6 60.2,297.3" fill="none" stroke="url(#wg352)" stroke-width="1.05" stroke-linecap="round"/>
<linearGradient id="wg354" gradientUnits="userSpaceOnUse" x1="60.2" y1="297.3" x2="64.2" y2="298.0"><stop offset="0" stop-color="#d82818"/><stop offset="1" stop-color="#7c2c14"/></linearGradient>
<path d="M60.2,297.3 C61.4,297.0 63.1,297.2 64.2,298.0" fill="none" stroke="url(#wg354)" stroke-width="1.05" stroke-linecap="round"/>
<linearGradient id="wg356" gradientUnits="userSpaceOnUse" x1="64.2" y1="298.0" x2="66.9" y2="302.0"><stop offset="0" stop-color="#7c2c14"/><stop offset="1" stop-color="#a8c420"/></linearGradient>
<path d="M64.2,298.0 C65.3,298.8 66.2,300.6 66.9,302.0" fill="none" stroke="url(#wg356)" stroke-width="1.05" stroke-linecap="round"/>
<linearGradient id="wg358" gradientUnits="userSpaceOnUse" x1="66.9" y1="302.0" x2="68.3" y2="306.7"><stop offset="0" stop-color="#a8c420"/><stop offset="1" stop-color="#a8c420"/></linearGradient>
<path d="M66.9,302.0 C67.6,303.4 67.6,305.3 68.3,306.7" fill="none" stroke="url(#wg358)" stroke-width="1.05" stroke-linecap="round"/>
<linearGradient id="wg360" gradientUnits="userSpaceOnUse" x1="68.3" y1="306.7" x2="71.0" y2="310.1"><stop offset="0" stop-color="#a8c420"/><stop offset="1" stop-color="#d0c420"/></linearGradient>
<path d="M68.3,306.7 C69.0,308.1 70.0,309.7 71.0,310.1" fill="none" stroke="url(#wg360)" stroke-width="1.05" stroke-linecap="round"/>
<linearGradient id="wg362" gradientUnits="userSpaceOnUse" x1="71.0" y1="310.1" x2="74.3" y2="309.1"><stop offset="0" stop-color="#d0c420"/><stop offset="1" stop-color="#a8c420"/></linearGradient>
<path d="M71.0,310.1 C72.0,310.5 73.6,309.3 74.3,309.1" fill="none" stroke="url(#wg362)" stroke-width="1.05" stroke-linecap="round"/>
<linearGradient id="wg364" gradientUnits="userSpaceOnUse" x1="74.3" y1="309.1" x2="75.4" y2="308.7"><stop offset="0" stop-color="#a8c420"/><stop offset="1" stop-color="#d0c420"/></linearGradient>
<path d="M74.3,309.1 C75.0,308.9 74.8,309.4 75.4,308.7" fill="none" stroke="url(#wg364)" stroke-width="1.05" stroke-linecap="round"/>
<linearGradient id="wg366" gradientUnits="userSpaceOnUse" x1="75.4" y1="308.7" x2="78.1" y2="304.7"><stop offset="0" stop-color="#d0c420"/><stop offset="1" stop-color="#a8c420"/></linearGradient>
<path d="M75.4,308.7 C76.0,308.0 77.1,305.5 78.1,304.7" fill="none" stroke="url(#wg366)" stroke-width="1.05" stroke-linecap="round"/>
<linearGradient id="wg368" gradientUnits="userSpaceOnUse" x1="78.1" y1="304.7" x2="81.4" y2="303.8"><stop offset="0" stop-color="#a8c420"/><stop offset="1" stop-color="#80bc28"/></linearGradient>
<path d="M78.1,304.7 C79.1,303.9 80.4,303.8 81.4,303.8" fill="none" stroke="url(#wg368)" stroke-width="1.05" stroke-linecap="round"/>
<linearGradient id="wg370" gradientUnits="userSpaceOnUse" x1="81.4" y1="303.8" x2="84.1" y2="304.7"><stop offset="0" stop-color="#80bc28"/><stop offset="1" stop-color="#80bc28"/></linearGradient>
<path d="M81.4,303.8 C82.4,303.8 83.3,303.9 84.1,304.7" fill="none" stroke="url(#wg370)" stroke-width="1.05" stroke-linecap="round"/>
<linearGradient id="wg372" gradientUnits="userSpaceOnUse" x1="84.1" y1="304.7" x2="86.1" y2="308.7"><stop offset="0" stop-color="#80bc28"/><stop offset="1" stop-color="#7c2c14"/></linearGradient>
<path d="M84.1,304.7 C84.9,305.5 85.3,307.2 86.1,308.7" fill="none" stroke="url(#wg372)" stroke-width="1.05" stroke-linecap="round"/>
<linearGradient id="wg374" gradientUnits="userSpaceOnUse" x1="86.1" y1="308.7" x2="88.8" y2="313.5"><stop offset="0" stop-color="#7c2c14"/><stop offset="1" stop-color="#d82818"/></linearGradient>
<path d="M86.1,308.7 C86.9,310.2 87.9,312.5 88.8,313.5" fill="none" stroke="url(#wg374)" stroke-width="1.05" stroke-linecap="round"/>
<linearGradient id="wg376" gradientUnits="userSpaceOnUse" x1="88.8" y1="313.5" x2="91.5" y2="314.8"><stop offset="0" stop-color="#d82818"/><stop offset="1" stop-color="#d82818"/></linearGradient>
<path d="M88.8,313.5 C89.7,314.5 90.6,315.2 91.5,314.8" fill="none" stroke="url(#wg376)" stroke-width="1.05" stroke-linecap="round"/>
<linearGradient id="wg378" gradientUnits="userSpaceOnUse" x1="91.5" y1="314.8" x2="94.2" y2="311.4"><stop offset="0" stop-color="#d82818"/><stop offset="1" stop-color="#c44c18"/></linearGradient>
<path d="M91.5,314.8 C92.4,314.4 93.2,312.8 94.2,311.4" fill="none" stroke="url(#wg378)" stroke-width="1.05" stroke-linecap="round"/>
<linearGradient id="wg380" gradientUnits="userSpaceOnUse" x1="94.2" y1="311.4" x2="97.6" y2="306.7"><stop offset="0" stop-color="#c44c18"/><stop offset="1" stop-color="#cc7c20"/></linearGradient>
<path d="M94.2,311.4 C95.2,310.0 96.5,307.9 97.6,306.7" fill="none" stroke="url(#wg380)" stroke-width="1.05" stroke-linecap="round"/>
<linearGradient id="wg382" gradientUnits="userSpaceOnUse" x1="97.6" y1="306.7" x2="100.9" y2="304.0"><stop offset="0" stop-color="#cc7c20"/><stop offset="1" stop-color="#cc7c20"/></linearGradient>
<path d="M97.6,306.7 C98.7,305.5 99.8,304.5 100.9,304.0" fill="none" stroke="url(#wg382)" stroke-width="1.05" stroke-linecap="round"/>
<linearGradient id="wg384" gradientUnits="userSpaceOnUse" x1="100.9" y1="304.0" x2="104.3" y2="303.8"><stop offset="0" stop-color="#cc7c20"/><stop offset="1" stop-color="#d0c420"/></linearGradient>
<path d="M100.9,304.0 C102.0,303.5 103.1,303.7 104.3,303.8" fill="none" stroke="url(#wg384)" stroke-width="1.05" stroke-linecap="round"/>
<linearGradient id="wg386" gradientUnits="userSpaceOnUse" x1="104.3" y1="303.8" x2="108.3" y2="304.7"><stop offset="0" stop-color="#d0c420"/><stop offset="1" stop-color="#cc7c20"/></linearGradient>
<path d="M104.3,303.8 C105.5,303.9 106.9,304.4 108.3,304.7" fill="none" stroke="url(#wg386)" stroke-width="1.05" stroke-linecap="round"/>
<linearGradient id="wg388" gradientUnits="userSpaceOnUse" x1="108.3" y1="304.7" x2="112.4" y2="305.4"><stop offset="0" stop-color="#cc7c20"/><stop offset="1" stop-color="#d0c420"/></linearGradient>
<path d="M108.3,304.7 C109.7,305.0 111.3,306.0 112.4,305.4" fill="none" stroke="url(#wg388)" stroke-width="1.05" stroke-linecap="round"/>
<linearGradient id="wg390" gradientUnits="userSpaceOnUse" x1="112.4" y1="305.4" x2="115.1" y2="301.3"><stop offset="0" stop-color="#d0c420"/><stop offset="1" stop-color="#80bc28"/></linearGradient>
<path d="M112.4,305.4 C113.5,304.8 114.1,302.9 115.1,301.3" fill="none" stroke="url(#wg390)" stroke-width="1.05" stroke-linecap="round"/>
<linearGradient id="wg392" gradientUnits="userSpaceOnUse" x1="115.1" y1="301.3" x2="118.4" y2="296.0"><stop offset="0" stop-color="#80bc28"/><stop offset="1" stop-color="#a8c420"/></linearGradient>
<path d="M115.1,301.3 C116.1,299.7 117.1,297.3 118.4,296.0" fill="none" stroke="url(#wg392)" stroke-width="1.05" stroke-linecap="round"/>
<linearGradient id="wg394" gradientUnits="userSpaceOnUse" x1="118.4" y1="296.0" x2="123.1" y2="293.3"><stop offset="0" stop-color="#a8c420"/><stop offset="1" stop-color="#d0c420"/></linearGradient>
<path d="M118.4,296.0 C119.7,294.7 121.9,293.7 123.1,293.3" fill="none" stroke="url(#wg394)" stroke-width="1.05" stroke-linecap="round"/>
<linearGradient id="wg396" gradientUnits="userSpaceOnUse" x1="123.1" y1="293.3" x2="125.8" y2="293.9"><stop offset="0" stop-color="#d0c420"/><stop offset="1" stop-color="#d0c420"/></linearGradient>
<path d="M123.1,293.3 C124.3,292.9 124.8,293.1 125.8,293.9" fill="none" stroke="url(#wg396)" stroke-width="1.05" stroke-linecap="round"/>
<linearGradient id="wg398" gradientUnits="userSpaceOnUse" x1="125.8" y1="293.9" x2="129.2" y2="298.0"><stop offset="0" stop-color="#d0c420"/><stop offset="1" stop-color="#d0c420"/></linearGradient>
<path d="M125.8,293.9 C126.8,294.7 128.1,296.8 129.2,298.0" fill="none" stroke="url(#wg398)" stroke-width="1.05" stroke-linecap="round"/>
<linearGradient id="wg400" gradientUnits="userSpaceOnUse" x1="129.2" y1="298.0" x2="132.6" y2="301.3"><stop offset="0" stop-color="#d0c420"/><stop offset="1" stop-color="#d0c420"/></linearGradient>
<path d="M129.2,298.0 C130.3,299.2 132.0,300.8 132.6,301.3" fill="none" stroke="url(#wg400)" stroke-width="1.05" stroke-linecap="round"/>
<linearGradient id="wg402" gradientUnits="userSpaceOnUse" x1="123.1" y1="293.3" x2="125.8" y2="286.5"><stop offset="0" stop-color="#d0c420"/><stop offset="1" stop-color="#80bc28"/></linearGradient>
<path d="M123.1,293.3 C123.5,292.2 124.7,288.0 125.8,286.5" fill="none" stroke="url(#wg402)" stroke-width="1.05" stroke-linecap="round"/>
<linearGradient id="wg404" gradientUnits="userSpaceOnUse" x1="125.8" y1="286.5" x2="129.9" y2="284.5"><stop offset="0" stop-color="#80bc28"/><stop offset="1" stop-color="#a8c420"/></linearGradient>
<path d="M125.8,286.5 C126.9,285.0 128.7,284.8 129.9,284.5" fill="none" stroke="url(#wg404)" stroke-width="1.05" stroke-linecap="round"/>
<linearGradient id="wg406" gradientUnits="userSpaceOnUse" x1="129.9" y1="284.5" x2="133.2" y2="284.5"><stop offset="0" stop-color="#a8c420"/><stop offset="1" stop-color="#a8c420"/></linearGradient>
<path d="M129.9,284.5 C131.1,284.2 132.1,285.1 133.2,284.5" fill="none" stroke="url(#wg406)" stroke-width="1.05" stroke-linecap="round"/>
<linearGradient id="wg408" gradientUnits="userSpaceOnUse" x1="133.2" y1="284.5" x2="136.6" y2="281.2"><stop offset="0" stop-color="#a8c420"/><stop offset="1" stop-color="#7c2c14"/></linearGradient>
<path d="M133.2,284.5 C134.3,283.9 135.5,282.2 136.6,281.2" fill="none" stroke="url(#wg408)" stroke-width="1.05" stroke-linecap="round"/>
<linearGradient id="wg410" gradientUnits="userSpaceOnUse" x1="136.6" y1="281.2" x2="140.0" y2="278.5"><stop offset="0" stop-color="#7c2c14"/><stop offset="1" stop-color="#7c2c14"/></linearGradient>
<path d="M136.6,281.2 C137.7,280.2 139.0,279.3 140.0,278.5" fill="none" stroke="url(#wg410)" stroke-width="1.05" stroke-linecap="round"/>
<linearGradient id="wg412" gradientUnits="userSpaceOnUse" x1="140.0" y1="278.5" x2="142.5" y2="276.2"><stop offset="0" stop-color="#7c2c14"/><stop offset="1" stop-color="#7c2c14"/></linearGradient>
<path d="M140.0,278.5 C141.0,277.7 142.1,276.6 142.5,276.2" fill="none" stroke="url(#wg412)" stroke-width="1.05" stroke-linecap="round"/>
</g>
<ellipse cx="17.8" cy="275.0" rx="2.7" ry="1.1" fill="#0c12f4" transform="rotate(-5 17.8 275.0)" filter="url(#bn)"/>
<ellipse cx="16.8" cy="292.3" rx="1.6" ry="1.4" fill="#0c12f4" transform="rotate(0 16.8 292.3)" filter="url(#bn)"/>
<ellipse cx="33.3" cy="310.8" rx="5.4" ry="2.3" fill="#0c12f4" transform="rotate(-5 33.3 310.8)" filter="url(#bn)"/>
<ellipse cx="58.2" cy="307.4" rx="4.6" ry="1.8" fill="#0c12f4" transform="rotate(-32 58.2 307.4)" filter="url(#bn)"/>
<ellipse cx="59.9" cy="297.6" rx="2.4" ry="1.1" fill="#0c12f4" transform="rotate(-15 59.9 297.6)" filter="url(#bn)"/>
<ellipse cx="18.2" cy="307.8" rx="0.8" ry="0.8" fill="#0c12f4" transform="rotate(0 18.2 307.8)" filter="url(#bn)"/>
<ellipse cx="52.0" cy="327.2" rx="4.2" ry="1.7" fill="#0c12f4" transform="rotate(12 52.0 327.2)" filter="url(#bn)"/>
<ellipse cx="70.0" cy="325.0" rx="3.4" ry="2.4" fill="#0c12f4" transform="rotate(20 70.0 325.0)" filter="url(#bn)"/>
<ellipse cx="48.8" cy="339.3" rx="2.8" ry="3.4" fill="#0c12f4" transform="rotate(10 48.8 339.3)" filter="url(#bn)"/>
<ellipse cx="84.2" cy="346.2" rx="4.2" ry="2.4" fill="#0c12f4" transform="rotate(5 84.2 346.2)" filter="url(#bn)"/>
<ellipse cx="8.3" cy="326.0" rx="1.4" ry="1.4" fill="#0c12f4" transform="rotate(0 8.3 326.0)" filter="url(#bn)"/>
<ellipse cx="120.5" cy="300.7" rx="4.4" ry="1.4" fill="#0c12f4" transform="rotate(-58 120.5 300.7)" filter="url(#bn)"/>
<ellipse cx="115.7" cy="307.8" rx="3" ry="1.2" fill="#0c12f4" transform="rotate(-30 115.7 307.8)" filter="url(#bn)"/>
<ellipse cx="130.5" cy="306.0" rx="3" ry="1.4" fill="#0c12f4" transform="rotate(20 130.5 306.0)" filter="url(#bn)"/>
<ellipse cx="140.0" cy="293.3" rx="2" ry="1.1" fill="#0c12f4" transform="rotate(-30 140.0 293.3)" filter="url(#bn)"/>
<ellipse cx="138.0" cy="265.7" rx="0.9" ry="1.6" fill="#0c12f4" transform="rotate(0 138.0 265.7)" filter="url(#bn)"/>
<ellipse cx="141.3" cy="271.0" rx="0.9" ry="2.4" fill="#0c12f4" transform="rotate(0 141.3 271.0)" filter="url(#bn)"/>
<ellipse cx="140.0" cy="315.5" rx="1.6" ry="1" fill="#0c12f4" transform="rotate(0 140.0 315.5)" filter="url(#bn)"/>
<ellipse cx="102.3" cy="303.6" rx="2" ry="0.9" fill="#0c12f4" transform="rotate(0 102.3 303.6)" filter="url(#bn)"/>
<ellipse cx="126.2" cy="294.4" rx="1.8" ry="1" fill="#0c12f4" transform="rotate(40 126.2 294.4)" filter="url(#bn)"/>
<ellipse cx="81.3" cy="302.6" rx="1.8" ry="0.9" fill="#0c12f4" transform="rotate(0 81.3 302.6)" filter="url(#bn)"/>
<ellipse cx="82.1" cy="306.7" rx="1.1" ry="1.9" fill="#ff1a10" transform="rotate(0 82.1 306.7)" filter="url(#bn)"/>
</g>
<rect x="88.5" y="316.5" width="50.9" height="54.5" fill="#000" stroke="#d4d4d4" stroke-width="1.1" rx="1"/>
<path d="M89.9,335.3 C90.4,335.1 92.2,333.9 93.1,334.2 C94.0,334.5 94.7,335.9 95.5,336.9 C96.3,337.9 96.9,339.4 97.8,340.0 C98.7,340.6 100.1,340.1 101.0,340.5 C101.9,340.9 102.6,341.7 103.4,342.4 C104.2,343.1 104.8,344.3 105.7,344.8 C106.6,345.3 108.0,345.4 108.9,345.5 C109.8,345.6 110.6,345.1 111.2,345.5 C111.8,345.9 112.1,347.8 112.8,347.9 C113.5,348.0 114.4,346.6 115.2,346.3 C116.0,346.0 116.7,345.9 117.5,346.3 C118.3,346.7 119.5,348.3 119.9,348.7" fill="none" stroke="#5f9228" stroke-width="0.8" opacity="0.85"/>
<path d="M123.9,344.8 C124.4,344.9 126.1,345.6 127.0,345.5 C127.9,345.4 128.6,344.6 129.4,344.0 C130.2,343.4 130.9,342.4 131.7,341.6 C132.5,340.8 133.3,339.9 134.1,339.2 C134.9,338.5 136.1,337.9 136.5,337.7 M134.1,341.6 L136.2,344" fill="none" stroke="#78b030" stroke-width="0.9" opacity="0.9"/>
<g clip-path="url(#p1)">
<g filter="url(#bw)">
<linearGradient id="wg443" gradientUnits="userSpaceOnUse" x1="144.6" y1="337.8" x2="145.6" y2="337.1"><stop offset="0" stop-color="#c44c18"/><stop offset="1" stop-color="#c44c18"/></linearGradient>
<path d="M144.6,337.8 C144.8,337.7 144.9,337.6 145.6,337.1" fill="none" stroke="url(#wg443)" stroke-width="1.05" stroke-linecap="round"/>
<linearGradient id="wg445" gradientUnits="userSpaceOnUse" x1="145.6" y1="337.1" x2="148.7" y2="334.8"><stop offset="0" stop-color="#c44c18"/><stop offset="1" stop-color="#cc7c20"/></linearGradient>
<path d="M145.6,337.1 C146.3,336.6 147.5,335.3 148.7,334.8" fill="none" stroke="url(#wg445)" stroke-width="1.05" stroke-linecap="round"/>
<linearGradient id="wg447" gradientUnits="userSpaceOnUse" x1="148.7" y1="334.8" x2="152.7" y2="334.3"><stop offset="0" stop-color="#cc7c20"/><stop offset="1" stop-color="#cc7c20"/></linearGradient>
<path d="M148.7,334.8 C149.9,334.3 151.6,334.2 152.7,334.3" fill="none" stroke="url(#wg447)" stroke-width="1.05" stroke-linecap="round"/>
<linearGradient id="wg449" gradientUnits="userSpaceOnUse" x1="152.7" y1="334.3" x2="155.1" y2="335.6"><stop offset="0" stop-color="#cc7c20"/><stop offset="1" stop-color="#7c2c14"/></linearGradient>
<path d="M152.7,334.3 C153.8,334.4 154.7,335.4 155.1,335.6" fill="none" stroke="url(#wg449)" stroke-width="1.05" stroke-linecap="round"/>
<linearGradient id="wg451" gradientUnits="userSpaceOnUse" x1="159.0" y1="335.6" x2="160.6" y2="330.8"><stop offset="0" stop-color="#7c2c14"/><stop offset="1" stop-color="#a8c420"/></linearGradient>
<path d="M159.0,335.6 C159.3,334.8 160.2,332.4 160.6,330.8" fill="none" stroke="url(#wg451)" stroke-width="1.05" stroke-linecap="round"/>
<linearGradient id="wg453" gradientUnits="userSpaceOnUse" x1="160.6" y1="330.8" x2="161.4" y2="326.1"><stop offset="0" stop-color="#a8c420"/><stop offset="1" stop-color="#a8c420"/></linearGradient>
<path d="M160.6,330.8 C161.0,329.2 160.8,327.3 161.4,326.1" fill="none" stroke="url(#wg453)" stroke-width="1.05" stroke-linecap="round"/>
<linearGradient id="wg455" gradientUnits="userSpaceOnUse" x1="161.4" y1="326.1" x2="164.5" y2="323.4"><stop offset="0" stop-color="#a8c420"/><stop offset="1" stop-color="#d0c420"/></linearGradient>
<path d="M161.4,326.1 C162.1,324.9 163.3,323.7 164.5,323.4" fill="none" stroke="url(#wg455)" stroke-width="1.05" stroke-linecap="round"/>
<linearGradient id="wg457" gradientUnits="userSpaceOnUse" x1="164.5" y1="323.4" x2="168.5" y2="324.5"><stop offset="0" stop-color="#d0c420"/><stop offset="1" stop-color="#cc7c20"/></linearGradient>
<path d="M164.5,323.4 C165.7,323.1 167.3,323.7 168.5,324.5" fill="none" stroke="url(#wg457)" stroke-width="1.05" stroke-linecap="round"/>
<linearGradient id="wg459" gradientUnits="userSpaceOnUse" x1="168.5" y1="324.5" x2="171.6" y2="328.4"><stop offset="0" stop-color="#cc7c20"/><stop offset="1" stop-color="#c44c18"/></linearGradient>
<path d="M168.5,324.5 C169.7,325.3 170.8,327.3 171.6,328.4" fill="none" stroke="url(#wg459)" stroke-width="1.05" stroke-linecap="round"/>
<linearGradient id="wg461" gradientUnits="userSpaceOnUse" x1="171.6" y1="328.4" x2="173.2" y2="330.8"><stop offset="0" stop-color="#c44c18"/><stop offset="1" stop-color="#d0c420"/></linearGradient>
<path d="M171.6,328.4 C172.4,329.4 172.5,331.2 173.2,330.8" fill="none" stroke="url(#wg461)" stroke-width="1.05" stroke-linecap="round"/>
<linearGradient id="wg463" gradientUnits="userSpaceOnUse" x1="173.2" y1="330.8" x2="175.6" y2="326.1"><stop offset="0" stop-color="#d0c420"/><stop offset="1" stop-color="#c44c18"/></linearGradient>
<path d="M173.2,330.8 C173.9,330.4 174.7,327.5 175.6,326.1" fill="none" stroke="url(#wg463)" stroke-width="1.05" stroke-linecap="round"/>
<linearGradient id="wg465" gradientUnits="userSpaceOnUse" x1="175.6" y1="326.1" x2="178.8" y2="322.6"><stop offset="0" stop-color="#c44c18"/><stop offset="1" stop-color="#a8c420"/></linearGradient>
<path d="M175.6,326.1 C176.5,324.7 177.5,323.3 178.8,322.6" fill="none" stroke="url(#wg465)" stroke-width="1.05" stroke-linecap="round"/>
<linearGradient id="wg467" gradientUnits="userSpaceOnUse" x1="178.8" y1="322.6" x2="183.5" y2="321.7"><stop offset="0" stop-color="#a8c420"/><stop offset="1" stop-color="#a8c420"/></linearGradient>
<path d="M178.8,322.6 C180.1,321.9 181.8,321.9 183.5,321.7" fill="none" stroke="url(#wg467)" stroke-width="1.05" stroke-linecap="round"/>
<linearGradient id="wg469" gradientUnits="userSpaceOnUse" x1="183.5" y1="321.7" x2="189.0" y2="321.7"><stop offset="0" stop-color="#a8c420"/><stop offset="1" stop-color="#80bc28"/></linearGradient>
<path d="M183.5,321.7 C185.2,321.5 187.7,322.3 189.0,321.7" fill="none" stroke="url(#wg469)" stroke-width="1.05" stroke-linecap="round"/>
<linearGradient id="wg471" gradientUnits="userSpaceOnUse" x1="189.0" y1="321.7" x2="191.4" y2="318.2"><stop offset="0" stop-color="#80bc28"/><stop offset="1" stop-color="#a8c420"/></linearGradient>
<path d="M189.0,321.7 C190.3,321.1 190.5,319.3 191.4,318.2" fill="none" stroke="url(#wg471)" stroke-width="1.05" stroke-linecap="round"/>
<linearGradient id="wg473" gradientUnits="userSpaceOnUse" x1="191.4" y1="318.2" x2="194.6" y2="315.0"><stop offset="0" stop-color="#a8c420"/><stop offset="1" stop-color="#d0c420"/></linearGradient>
<path d="M191.4,318.2 C192.3,317.1 193.3,315.7 194.6,315.0" fill="none" stroke="url(#wg473)" stroke-width="1.05" stroke-linecap="round"/>
<linearGradient id="wg475" gradientUnits="userSpaceOnUse" x1="194.6" y1="315.0" x2="199.3" y2="314.2"><stop offset="0" stop-color="#d0c420"/><stop offset="1" stop-color="#d0c420"/></linearGradient>
<path d="M194.6,315.0 C195.9,314.3 197.9,314.5 199.3,314.2" fill="none" stroke="url(#wg475)" stroke-width="1.05" stroke-linecap="round"/>
<linearGradient id="wg477" gradientUnits="userSpaceOnUse" x1="199.3" y1="314.2" x2="203.2" y2="313.4"><stop offset="0" stop-color="#d0c420"/><stop offset="1" stop-color="#80bc28"/></linearGradient>
<path d="M199.3,314.2 C200.7,313.9 201.9,314.0 203.2,313.4" fill="none" stroke="url(#wg477)" stroke-width="1.05" stroke-linecap="round"/>
<linearGradient id="wg479" gradientUnits="userSpaceOnUse" x1="203.2" y1="313.4" x2="207.2" y2="310.3"><stop offset="0" stop-color="#80bc28"/><stop offset="1" stop-color="#cc7c20"/></linearGradient>
<path d="M203.2,313.4 C204.5,312.8 206.3,311.6 207.2,310.3" fill="none" stroke="url(#wg479)" stroke-width="1.05" stroke-linecap="round"/>
<linearGradient id="wg481" gradientUnits="userSpaceOnUse" x1="207.2" y1="310.3" x2="208.8" y2="305.5"><stop offset="0" stop-color="#cc7c20"/><stop offset="1" stop-color="#cc7c20"/></linearGradient>
<path d="M207.2,310.3 C208.1,309.0 208.7,307.2 208.8,305.5" fill="none" stroke="url(#wg481)" stroke-width="1.05" stroke-linecap="round"/>
<linearGradient id="wg483" gradientUnits="userSpaceOnUse" x1="208.8" y1="305.5" x2="208.0" y2="300.0"><stop offset="0" stop-color="#cc7c20"/><stop offset="1" stop-color="#cc7c20"/></linearGradient>
<path d="M208.8,305.5 C208.9,303.8 207.9,301.6 208.0,300.0" fill="none" stroke="url(#wg483)" stroke-width="1.05" stroke-linecap="round"/>
<linearGradient id="wg485" gradientUnits="userSpaceOnUse" x1="208.0" y1="300.0" x2="209.6" y2="295.7"><stop offset="0" stop-color="#cc7c20"/><stop offset="1" stop-color="#cc7c20"/></linearGradient>
<path d="M208.0,300.0 C208.1,298.4 208.8,296.6 209.6,295.7" fill="none" stroke="url(#wg485)" stroke-width="1.05" stroke-linecap="round"/>
<linearGradient id="wg487" gradientUnits="userSpaceOnUse" x1="209.6" y1="295.7" x2="212.7" y2="294.5"><stop offset="0" stop-color="#cc7c20"/><stop offset="1" stop-color="#cc7c20"/></linearGradient>
<path d="M209.6,295.7 C210.4,294.8 211.7,294.1 212.7,294.5" fill="none" stroke="url(#wg487)" stroke-width="1.05" stroke-linecap="round"/>
<linearGradient id="wg489" gradientUnits="userSpaceOnUse" x1="212.7" y1="294.5" x2="215.7" y2="298.1"><stop offset="0" stop-color="#cc7c20"/><stop offset="1" stop-color="#c44c18"/></linearGradient>
<path d="M212.7,294.5 C213.7,294.9 214.5,297.3 215.7,298.1" fill="none" stroke="url(#wg489)" stroke-width="1.05" stroke-linecap="round"/>
<linearGradient id="wg491" gradientUnits="userSpaceOnUse" x1="215.7" y1="298.1" x2="219.6" y2="299.1"><stop offset="0" stop-color="#c44c18"/><stop offset="1" stop-color="#cc7c20"/></linearGradient>
<path d="M215.7,298.1 C216.8,298.9 218.6,300.1 219.6,299.1" fill="none" stroke="url(#wg491)" stroke-width="1.05" stroke-linecap="round"/>
<linearGradient id="wg493" gradientUnits="userSpaceOnUse" x1="219.6" y1="299.1" x2="221.6" y2="292.3"><stop offset="0" stop-color="#cc7c20"/><stop offset="1" stop-color="#d0c420"/></linearGradient>
<path d="M219.6,299.1 C220.6,298.1 220.6,293.8 221.6,292.3" fill="none" stroke="url(#wg493)" stroke-width="1.05" stroke-linecap="round"/>
<linearGradient id="wg495" gradientUnits="userSpaceOnUse" x1="221.6" y1="292.3" x2="225.5" y2="289.9"><stop offset="0" stop-color="#d0c420"/><stop offset="1" stop-color="#d0c420"/></linearGradient>
<path d="M221.6,292.3 C222.6,290.8 224.4,290.1 225.5,289.9" fill="none" stroke="url(#wg495)" stroke-width="1.05" stroke-linecap="round"/>
<linearGradient id="wg497" gradientUnits="userSpaceOnUse" x1="225.5" y1="289.9" x2="228.4" y2="291.3"><stop offset="0" stop-color="#d0c420"/><stop offset="1" stop-color="#d0c420"/></linearGradient>
<path d="M225.5,289.9 C226.6,289.7 227.3,290.7 228.4,291.3" fill="none" stroke="url(#wg497)" stroke-width="1.05" stroke-linecap="round"/>
<linearGradient id="wg499" gradientUnits="userSpaceOnUse" x1="228.4" y1="291.3" x2="232.3" y2="293.3"><stop offset="0" stop-color="#d0c420"/><stop offset="1" stop-color="#a8c420"/></linearGradient>
<path d="M228.4,291.3 C229.5,291.9 231.3,293.5 232.3,293.3" fill="none" stroke="url(#wg499)" stroke-width="1.05" stroke-linecap="round"/>
<linearGradient id="wg501" gradientUnits="userSpaceOnUse" x1="232.3" y1="293.3" x2="234.2" y2="290.3"><stop offset="0" stop-color="#a8c420"/><stop offset="1" stop-color="#a8c420"/></linearGradient>
<path d="M232.3,293.3 C233.3,293.1 234.0,291.8 234.2,290.3" fill="none" stroke="url(#wg501)" stroke-width="1.05" stroke-linecap="round"/>
<linearGradient id="wg503" gradientUnits="userSpaceOnUse" x1="234.2" y1="290.3" x2="233.3" y2="284.5"><stop offset="0" stop-color="#a8c420"/><stop offset="1" stop-color="#80bc28"/></linearGradient>
<path d="M234.2,290.3 C234.4,288.8 233.0,286.1 233.3,284.5" fill="none" stroke="url(#wg503)" stroke-width="1.05" stroke-linecap="round"/>
<linearGradient id="wg505" gradientUnits="userSpaceOnUse" x1="233.3" y1="284.5" x2="236.2" y2="280.6"><stop offset="0" stop-color="#80bc28"/><stop offset="1" stop-color="#cc7c20"/></linearGradient>
<path d="M233.3,284.5 C233.6,282.9 234.9,281.7 236.2,280.6" fill="none" stroke="url(#wg505)" stroke-width="1.05" stroke-linecap="round"/>
<linearGradient id="wg507" gradientUnits="userSpaceOnUse" x1="236.2" y1="280.6" x2="241.1" y2="278.2"><stop offset="0" stop-color="#cc7c20"/><stop offset="1" stop-color="#cc7c20"/></linearGradient>
<path d="M236.2,280.6 C237.5,279.6 239.5,278.7 241.1,278.2" fill="none" stroke="url(#wg507)" stroke-width="1.05" stroke-linecap="round"/>
<linearGradient id="wg509" gradientUnits="userSpaceOnUse" x1="241.1" y1="278.2" x2="245.9" y2="277.7"><stop offset="0" stop-color="#cc7c20"/><stop offset="1" stop-color="#d0c420"/></linearGradient>
<path d="M241.1,278.2 C242.7,277.7 244.6,277.9 245.9,277.7" fill="none" stroke="url(#wg509)" stroke-width="1.05" stroke-linecap="round"/>
<linearGradient id="wg511" gradientUnits="userSpaceOnUse" x1="245.9" y1="277.7" x2="248.9" y2="276.7"><stop offset="0" stop-color="#d0c420"/><stop offset="1" stop-color="#cc7c20"/></linearGradient>
<path d="M245.9,277.7 C247.2,277.4 248.4,278.0 248.9,276.7" fill="none" stroke="url(#wg511)" stroke-width="1.05" stroke-linecap="round"/>
<linearGradient id="wg513" gradientUnits="userSpaceOnUse" x1="248.9" y1="276.7" x2="248.9" y2="269.9"><stop offset="0" stop-color="#cc7c20"/><stop offset="1" stop-color="#d0c420"/></linearGradient>
<path d="M248.9,276.7 C249.4,275.4 248.4,271.8 248.9,269.9" fill="none" stroke="url(#wg513)" stroke-width="1.05" stroke-linecap="round"/>
<linearGradient id="wg515" gradientUnits="userSpaceOnUse" x1="248.9" y1="269.9" x2="251.8" y2="265.0"><stop offset="0" stop-color="#d0c420"/><stop offset="1" stop-color="#cc7c20"/></linearGradient>
<path d="M248.9,269.9 C249.4,267.9 250.7,265.6 251.8,265.0" fill="none" stroke="url(#wg515)" stroke-width="1.05" stroke-linecap="round"/>
<linearGradient id="wg517" gradientUnits="userSpaceOnUse" x1="251.8" y1="265.0" x2="255.7" y2="266.0"><stop offset="0" stop-color="#cc7c20"/><stop offset="1" stop-color="#cc7c20"/></linearGradient>
<path d="M251.8,265.0 C252.9,264.4 254.4,265.7 255.7,266.0" fill="none" stroke="url(#wg517)" stroke-width="1.05" stroke-linecap="round"/>
<linearGradient id="wg519" gradientUnits="userSpaceOnUse" x1="255.7" y1="266.0" x2="259.6" y2="266.9"><stop offset="0" stop-color="#cc7c20"/><stop offset="1" stop-color="#cc7c20"/></linearGradient>
<path d="M255.7,266.0 C257.0,266.3 258.6,267.4 259.6,266.9" fill="none" stroke="url(#wg519)" stroke-width="1.05" stroke-linecap="round"/>
<linearGradient id="wg521" gradientUnits="userSpaceOnUse" x1="259.6" y1="266.9" x2="261.9" y2="263.0"><stop offset="0" stop-color="#cc7c20"/><stop offset="1" stop-color="#7c2c14"/></linearGradient>
<path d="M259.6,266.9 C260.6,266.4 261.6,264.9 261.9,263.0" fill="none" stroke="url(#wg521)" stroke-width="1.05" stroke-linecap="round"/>
<linearGradient id="wg523" gradientUnits="userSpaceOnUse" x1="261.9" y1="263.0" x2="261.1" y2="255.2"><stop offset="0" stop-color="#7c2c14"/><stop offset="1" stop-color="#7c2c14"/></linearGradient>
<path d="M261.9,263.0 C262.1,261.1 261.0,257.5 261.1,255.2" fill="none" stroke="url(#wg523)" stroke-width="1.05" stroke-linecap="round"/>
<linearGradient id="wg525" gradientUnits="userSpaceOnUse" x1="261.1" y1="255.2" x2="262.5" y2="249.4"><stop offset="0" stop-color="#7c2c14"/><stop offset="1" stop-color="#c44c18"/></linearGradient>
<path d="M261.1,255.2 C261.2,252.9 262.2,251.3 262.5,249.4" fill="none" stroke="url(#wg525)" stroke-width="1.05" stroke-linecap="round"/>
<linearGradient id="wg527" gradientUnits="userSpaceOnUse" x1="262.5" y1="249.4" x2="263.1" y2="243.5"><stop offset="0" stop-color="#c44c18"/><stop offset="1" stop-color="#cc7c20"/></linearGradient>
<path d="M262.5,249.4 C262.8,247.5 263.3,245.3 263.1,243.5" fill="none" stroke="url(#wg527)" stroke-width="1.05" stroke-linecap="round"/>
<linearGradient id="wg529" gradientUnits="userSpaceOnUse" x1="263.1" y1="243.5" x2="261.5" y2="238.7"><stop offset="0" stop-color="#cc7c20"/><stop offset="1" stop-color="#d0c420"/></linearGradient>
<path d="M263.1,243.5 C262.9,241.7 261.6,240.3 261.5,238.7" fill="none" stroke="url(#wg529)" stroke-width="1.05" stroke-linecap="round"/>
<linearGradient id="wg531" gradientUnits="userSpaceOnUse" x1="261.5" y1="238.7" x2="262.5" y2="233.8"><stop offset="0" stop-color="#d0c420"/><stop offset="1" stop-color="#a8c420"/></linearGradient>
<path d="M261.5,238.7 C261.4,237.1 261.7,235.2 262.5,233.8" fill="none" stroke="url(#wg531)" stroke-width="1.05" stroke-linecap="round"/>
<linearGradient id="wg533" gradientUnits="userSpaceOnUse" x1="262.5" y1="233.8" x2="266.4" y2="230.3"><stop offset="0" stop-color="#a8c420"/><stop offset="1" stop-color="#80bc28"/></linearGradient>
<path d="M262.5,233.8 C263.3,232.4 264.9,231.0 266.4,230.3" fill="none" stroke="url(#wg533)" stroke-width="1.05" stroke-linecap="round"/>
<linearGradient id="wg535" gradientUnits="userSpaceOnUse" x1="266.4" y1="230.3" x2="271.3" y2="229.5"><stop offset="0" stop-color="#80bc28"/><stop offset="1" stop-color="#cc7c20"/></linearGradient>
<path d="M266.4,230.3 C267.9,229.6 269.5,229.6 271.3,229.5" fill="none" stroke="url(#wg535)" stroke-width="1.05" stroke-linecap="round"/>
<linearGradient id="wg537" gradientUnits="userSpaceOnUse" x1="271.3" y1="229.5" x2="277.1" y2="229.9"><stop offset="0" stop-color="#cc7c20"/><stop offset="1" stop-color="#d82818"/></linearGradient>
<path d="M271.3,229.5 C273.1,229.4 275.7,229.8 277.1,229.9" fill="none" stroke="url(#wg537)" stroke-width="1.05" stroke-linecap="round"/>
<linearGradient id="wg539" gradientUnits="userSpaceOnUse" x1="277.1" y1="229.9" x2="280.0" y2="230.2"><stop offset="0" stop-color="#d82818"/><stop offset="1" stop-color="#d82818"/></linearGradient>
<path d="M277.1,229.9 C278.6,230.0 279.5,230.1 280.0,230.2" fill="none" stroke="url(#wg539)" stroke-width="1.05" stroke-linecap="round"/>
</g>
<ellipse cx="148.7" cy="340.6" rx="1.2" ry="1.2" fill="#0c12f4" transform="rotate(0 148.7 340.6)" filter="url(#bn)"/>
<ellipse cx="181.9" cy="326.9" rx="3" ry="1.4" fill="#0c12f4" transform="rotate(20 181.9 326.9)" filter="url(#bn)"/>
<ellipse cx="195.3" cy="321.7" rx="3" ry="1.2" fill="#0c12f4" transform="rotate(-5 195.3 321.7)" filter="url(#bn)"/>
<ellipse cx="210.4" cy="327.3" rx="2.4" ry="1.7" fill="#0c12f4" transform="rotate(-10 210.4 327.3)" filter="url(#bn)"/>
<ellipse cx="192.2" cy="335.6" rx="2.6" ry="1.4" fill="#0c12f4" transform="rotate(-30 192.2 335.6)" filter="url(#bn)"/>
<ellipse cx="187.4" cy="332.1" rx="1.4" ry="1" fill="#0c12f4" transform="rotate(-30 187.4 332.1)" filter="url(#bn)"/>
<ellipse cx="166.9" cy="334.3" rx="1.2" ry="1.8" fill="#0c12f4" transform="rotate(0 166.9 334.3)" filter="url(#bn)"/>
<ellipse cx="274.2" cy="232.8" rx="3" ry="1.1" fill="#0c12f4" transform="rotate(0 274.2 232.8)" filter="url(#bn)"/>
<ellipse cx="276.2" cy="261.1" rx="0.9" ry="2" fill="#0c12f4" transform="rotate(0 276.2 261.1)" filter="url(#bn)"/>
<ellipse cx="255.3" cy="271.2" rx="3.4" ry="1.7" fill="#0c12f4" transform="rotate(-5 255.3 271.2)" filter="url(#bn)"/>
<ellipse cx="234.2" cy="284.3" rx="1.4" ry="1.4" fill="#0c12f4" transform="rotate(0 234.2 284.3)" filter="url(#bn)"/>
<ellipse cx="257.6" cy="279.6" rx="1.7" ry="2" fill="#0c12f4" transform="rotate(0 257.6 279.6)" filter="url(#bn)"/>
<ellipse cx="263.5" cy="284.5" rx="1.4" ry="2.4" fill="#0c12f4" transform="rotate(-20 263.5 284.5)" filter="url(#bn)"/>
<ellipse cx="246.9" cy="288.8" rx="3.2" ry="1.4" fill="#0c12f4" transform="rotate(-10 246.9 288.8)" filter="url(#bn)"/>
<ellipse cx="229.4" cy="298.5" rx="3" ry="1.1" fill="#0c12f4" transform="rotate(-10 229.4 298.5)" filter="url(#bn)"/>
<ellipse cx="257.6" cy="290.3" rx="1" ry="1" fill="#0c12f4" transform="rotate(0 257.6 290.3)" filter="url(#bn)"/>
<ellipse cx="254.0" cy="270.4" rx="2.4" ry="1.2" fill="#0c12f4" transform="rotate(-30 254.0 270.4)" filter="url(#bn)"/>
<ellipse cx="264.3" cy="264.4" rx="1.8" ry="1.1" fill="#0c12f4" transform="rotate(-40 264.3 264.4)" filter="url(#bn)"/>
<ellipse cx="268.2" cy="284.1" rx="2.2" ry="1.2" fill="#0c12f4" transform="rotate(-30 268.2 284.1)" filter="url(#bn)"/>
<ellipse cx="236.6" cy="307.8" rx="2.4" ry="1.2" fill="#0c12f4" transform="rotate(-20 236.6 307.8)" filter="url(#bn)"/>
<ellipse cx="250.4" cy="316.5" rx="1.8" ry="1.1" fill="#0c12f4" transform="rotate(-20 250.4 316.5)" filter="url(#bn)"/>
<ellipse cx="211.0" cy="326.7" rx="2.8" ry="1.2" fill="#0c12f4" transform="rotate(-10 211.0 326.7)" filter="url(#bn)"/>
<ellipse cx="195.2" cy="323.6" rx="1.8" ry="1" fill="#0c12f4" transform="rotate(0 195.2 323.6)" filter="url(#bn)"/>
<ellipse cx="183.4" cy="327.5" rx="2.4" ry="1.2" fill="#0c12f4" transform="rotate(-10 183.4 327.5)" filter="url(#bn)"/>
<ellipse cx="191.3" cy="336.2" rx="2.4" ry="1.2" fill="#0c12f4" transform="rotate(-10 191.3 336.2)" filter="url(#bn)"/>
<ellipse cx="165.7" cy="341.7" rx="2.8" ry="1.3" fill="#0c12f4" transform="rotate(-10 165.7 341.7)" filter="url(#bn)"/>
<ellipse cx="149.9" cy="343.3" rx="2.4" ry="1.3" fill="#0c12f4" transform="rotate(0 149.9 343.3)" filter="url(#bn)"/>
<ellipse cx="167.6" cy="363.0" rx="3.4" ry="1.5" fill="#0c12f4" transform="rotate(0 167.6 363.0)" filter="url(#bn)"/>
<ellipse cx="177.5" cy="343.3" rx="1.8" ry="1" fill="#0c12f4" transform="rotate(0 177.5 343.3)" filter="url(#bn)"/>
<ellipse cx="205.1" cy="337.4" rx="1.8" ry="1" fill="#0c12f4" transform="rotate(0 205.1 337.4)" filter="url(#bn)"/>
<ellipse cx="221.0" cy="317.7" rx="1.8" ry="1.1" fill="#0c12f4" transform="rotate(-20 221.0 317.7)" filter="url(#bn)"/>
</g>
<rect x="227.3" y="316.5" width="51.5" height="54.5" fill="#000" stroke="#d4d4d4" stroke-width="1.1" rx="1"/>
<path d="M229.5,356.6 C230.0,356.4 231.8,356.0 232.7,355.3 C233.6,354.6 234.2,352.6 235.0,352.6 C235.8,352.6 236.6,355.3 237.4,355.3 C238.2,355.3 238.8,353.2 239.8,352.6 C240.9,352.0 242.5,352.4 243.7,351.9 C244.9,351.4 245.8,350.0 246.9,349.5 C248.0,349.0 249.1,349.9 250.0,348.7 C250.9,347.5 251.7,343.0 252.4,342.4 C253.1,341.8 253.2,345.2 254.0,344.8 C254.8,344.4 256.1,340.9 257.1,340.0 C258.2,339.1 259.5,339.8 260.3,339.2 C261.1,338.6 261.1,336.8 261.9,336.1 C262.7,335.5 264.1,336.2 265.0,335.3 C265.9,334.4 266.5,331.7 267.4,330.6 C268.3,329.6 269.7,330.1 270.5,329.0 C271.3,327.9 271.8,325.8 272.1,324.3 C272.4,322.9 271.7,321.4 272.1,320.3 C272.5,319.2 274.1,318.0 274.5,317.5" fill="none" stroke="#659a2c" stroke-width="0.8" opacity="0.8" stroke-dasharray="3.5 0.8"/>
<g clip-path="url(#p2)">
<g filter="url(#bw)">
<linearGradient id="wg578" gradientUnits="userSpaceOnUse" x1="282.5" y1="328.0" x2="283.3" y2="327.7"><stop offset="0" stop-color="#cc7c20"/><stop offset="1" stop-color="#cc7c20"/></linearGradient>
<path d="M282.5,328.0 C282.6,327.9 282.5,328.0 283.3,327.7" fill="none" stroke="url(#wg578)" stroke-width="1.25" stroke-linecap="round"/>
<linearGradient id="wg580" gradientUnits="userSpaceOnUse" x1="283.3" y1="327.7" x2="287.5" y2="326.1"><stop offset="0" stop-color="#cc7c20"/><stop offset="1" stop-color="#c44c18"/></linearGradient>
<path d="M283.3,327.7 C284.1,327.4 286.8,326.4 287.5,326.1" fill="none" stroke="url(#wg580)" stroke-width="1.25" stroke-linecap="round"/>
<linearGradient id="wg582" gradientUnits="userSpaceOnUse" x1="304.1" y1="320.1" x2="309.6" y2="318.5"><stop offset="0" stop-color="#d82818"/><stop offset="1" stop-color="#d82818"/></linearGradient>
<path d="M304.1,320.1 C305.0,319.8 307.6,318.6 309.6,318.5" fill="none" stroke="url(#wg582)" stroke-width="1.25" stroke-linecap="round"/>
<linearGradient id="wg584" gradientUnits="userSpaceOnUse" x1="309.6" y1="318.5" x2="316.0" y2="319.4"><stop offset="0" stop-color="#d82818"/><stop offset="1" stop-color="#d82818"/></linearGradient>
<path d="M309.6,318.5 C311.6,318.4 314.4,319.4 316.0,319.4" fill="none" stroke="url(#wg584)" stroke-width="1.25" stroke-linecap="round"/>
<linearGradient id="wg586" gradientUnits="userSpaceOnUse" x1="316.0" y1="319.4" x2="319.1" y2="318.2"><stop offset="0" stop-color="#d82818"/><stop offset="1" stop-color="#d82818"/></linearGradient>
<path d="M316.0,319.4 C317.6,319.3 318.6,318.4 319.1,318.2" fill="none" stroke="url(#wg586)" stroke-width="1.25" stroke-linecap="round"/>
<linearGradient id="wg588" gradientUnits="userSpaceOnUse" x1="324.7" y1="315.8" x2="327.0" y2="310.3"><stop offset="0" stop-color="#c44c18"/><stop offset="1" stop-color="#c44c18"/></linearGradient>
<path d="M324.7,315.8 C325.1,314.9 326.2,311.8 327.0,310.3" fill="none" stroke="url(#wg588)" stroke-width="1.25" stroke-linecap="round"/>
<linearGradient id="wg590" gradientUnits="userSpaceOnUse" x1="327.0" y1="310.3" x2="329.4" y2="306.8"><stop offset="0" stop-color="#c44c18"/><stop offset="1" stop-color="#cc7c20"/></linearGradient>
<path d="M327.0,310.3 C327.8,308.8 328.2,307.3 329.4,306.8" fill="none" stroke="url(#wg590)" stroke-width="1.25" stroke-linecap="round"/>
<linearGradient id="wg592" gradientUnits="userSpaceOnUse" x1="329.4" y1="306.8" x2="334.1" y2="307.1"><stop offset="0" stop-color="#cc7c20"/><stop offset="1" stop-color="#cc7c20"/></linearGradient>
<path d="M329.4,306.8 C330.6,306.3 332.8,306.7 334.1,307.1" fill="none" stroke="url(#wg592)" stroke-width="1.25" stroke-linecap="round"/>
<linearGradient id="wg594" gradientUnits="userSpaceOnUse" x1="334.1" y1="307.1" x2="337.3" y2="309.5"><stop offset="0" stop-color="#cc7c20"/><stop offset="1" stop-color="#a8c420"/></linearGradient>
<path d="M334.1,307.1 C335.4,307.6 336.1,308.9 337.3,309.5" fill="none" stroke="url(#wg594)" stroke-width="1.25" stroke-linecap="round"/>
<linearGradient id="wg596" gradientUnits="userSpaceOnUse" x1="337.3" y1="309.5" x2="341.2" y2="310.6"><stop offset="0" stop-color="#a8c420"/><stop offset="1" stop-color="#a8c420"/></linearGradient>
<path d="M337.3,309.5 C338.5,310.1 340.0,310.9 341.2,310.6" fill="none" stroke="url(#wg596)" stroke-width="1.25" stroke-linecap="round"/>
<linearGradient id="wg598" gradientUnits="userSpaceOnUse" x1="341.2" y1="310.6" x2="344.4" y2="307.9"><stop offset="0" stop-color="#a8c420"/><stop offset="1" stop-color="#cc7c20"/></linearGradient>
<path d="M341.2,310.6 C342.4,310.3 343.5,309.0 344.4,307.9" fill="none" stroke="url(#wg598)" stroke-width="1.25" stroke-linecap="round"/>
<linearGradient id="wg600" gradientUnits="userSpaceOnUse" x1="344.4" y1="307.9" x2="346.8" y2="304.0"><stop offset="0" stop-color="#cc7c20"/><stop offset="1" stop-color="#c44c18"/></linearGradient>
<path d="M344.4,307.9 C345.3,306.8 345.8,305.2 346.8,304.0" fill="none" stroke="url(#wg600)" stroke-width="1.25" stroke-linecap="round"/>
<linearGradient id="wg602" gradientUnits="userSpaceOnUse" x1="346.8" y1="304.0" x2="350.7" y2="300.5"><stop offset="0" stop-color="#c44c18"/><stop offset="1" stop-color="#d82818"/></linearGradient>
<path d="M346.8,304.0 C347.9,302.8 349.4,301.1 350.7,300.5" fill="none" stroke="url(#wg602)" stroke-width="1.25" stroke-linecap="round"/>
<linearGradient id="wg604" gradientUnits="userSpaceOnUse" x1="350.7" y1="300.5" x2="354.7" y2="300.5"><stop offset="0" stop-color="#d82818"/><stop offset="1" stop-color="#d82818"/></linearGradient>
<path d="M350.7,300.5 C352.0,299.9 353.2,300.1 354.7,300.5" fill="none" stroke="url(#wg604)" stroke-width="1.25" stroke-linecap="round"/>
<linearGradient id="wg606" gradientUnits="userSpaceOnUse" x1="354.7" y1="300.5" x2="359.6" y2="303.0"><stop offset="0" stop-color="#d82818"/><stop offset="1" stop-color="#cc7c20"/></linearGradient>
<path d="M354.7,300.5 C356.2,300.9 358.1,303.3 359.6,303.0" fill="none" stroke="url(#wg606)" stroke-width="1.25" stroke-linecap="round"/>
<linearGradient id="wg608" gradientUnits="userSpaceOnUse" x1="359.6" y1="303.0" x2="363.5" y2="298.6"><stop offset="0" stop-color="#cc7c20"/><stop offset="1" stop-color="#d0c420"/></linearGradient>
<path d="M359.6,303.0 C361.1,302.7 362.0,299.9 363.5,298.6" fill="none" stroke="url(#wg608)" stroke-width="1.25" stroke-linecap="round"/>
<linearGradient id="wg610" gradientUnits="userSpaceOnUse" x1="363.5" y1="298.6" x2="368.4" y2="295.2"><stop offset="0" stop-color="#d0c420"/><stop offset="1" stop-color="#c44c18"/></linearGradient>
<path d="M363.5,298.6 C365.0,297.3 366.8,295.9 368.4,295.2" fill="none" stroke="url(#wg610)" stroke-width="1.25" stroke-linecap="round"/>
<linearGradient id="wg612" gradientUnits="userSpaceOnUse" x1="368.4" y1="295.2" x2="373.2" y2="294.1"><stop offset="0" stop-color="#c44c18"/><stop offset="1" stop-color="#d82818"/></linearGradient>
<path d="M368.4,295.2 C370.0,294.4 371.8,294.2 373.2,294.1" fill="none" stroke="url(#wg612)" stroke-width="1.25" stroke-linecap="round"/>
<linearGradient id="wg614" gradientUnits="userSpaceOnUse" x1="373.2" y1="294.1" x2="377.1" y2="294.7"><stop offset="0" stop-color="#d82818"/><stop offset="1" stop-color="#d82818"/></linearGradient>
<path d="M373.2,294.1 C374.6,294.0 376.6,295.6 377.1,294.7" fill="none" stroke="url(#wg614)" stroke-width="1.25" stroke-linecap="round"/>
<linearGradient id="wg616" gradientUnits="userSpaceOnUse" x1="377.1" y1="294.7" x2="376.2" y2="288.8"><stop offset="0" stop-color="#d82818"/><stop offset="1" stop-color="#a8c420"/></linearGradient>
<path d="M377.1,294.7 C377.6,293.8 375.9,290.6 376.2,288.8" fill="none" stroke="url(#wg616)" stroke-width="1.25" stroke-linecap="round"/>
<linearGradient id="wg618" gradientUnits="userSpaceOnUse" x1="376.2" y1="288.8" x2="379.1" y2="283.6"><stop offset="0" stop-color="#a8c420"/><stop offset="1" stop-color="#d0c420"/></linearGradient>
<path d="M376.2,288.8 C376.5,287.0 378.0,284.2 379.1,283.6" fill="none" stroke="url(#wg618)" stroke-width="1.25" stroke-linecap="round"/>
<linearGradient id="wg620" gradientUnits="userSpaceOnUse" x1="379.1" y1="283.6" x2="383.0" y2="284.9"><stop offset="0" stop-color="#d0c420"/><stop offset="1" stop-color="#d82818"/></linearGradient>
<path d="M379.1,283.6 C380.2,283.0 382.4,284.7 383.0,284.9" fill="none" stroke="url(#wg620)" stroke-width="1.25" stroke-linecap="round"/>
<linearGradient id="wg622" gradientUnits="userSpaceOnUse" x1="388.2" y1="281.0" x2="388.8" y2="275.2"><stop offset="0" stop-color="#7c2c14"/><stop offset="1" stop-color="#d82818"/></linearGradient>
<path d="M388.2,281.0 C388.3,280.0 387.9,276.8 388.8,275.2" fill="none" stroke="url(#wg622)" stroke-width="1.25" stroke-linecap="round"/>
<linearGradient id="wg624" gradientUnits="userSpaceOnUse" x1="388.8" y1="275.2" x2="393.7" y2="271.3"><stop offset="0" stop-color="#d82818"/><stop offset="1" stop-color="#a8c420"/></linearGradient>
<path d="M388.8,275.2 C389.7,273.6 391.9,271.8 393.7,271.3" fill="none" stroke="url(#wg624)" stroke-width="1.25" stroke-linecap="round"/>
<linearGradient id="wg626" gradientUnits="userSpaceOnUse" x1="393.7" y1="271.3" x2="399.5" y2="272.3"><stop offset="0" stop-color="#a8c420"/><stop offset="1" stop-color="#d0c420"/></linearGradient>
<path d="M393.7,271.3 C395.5,270.8 397.9,272.5 399.5,272.3" fill="none" stroke="url(#wg626)" stroke-width="1.25" stroke-linecap="round"/>
<linearGradient id="wg628" gradientUnits="userSpaceOnUse" x1="399.5" y1="272.3" x2="403.4" y2="270.3"><stop offset="0" stop-color="#d0c420"/><stop offset="1" stop-color="#d82818"/></linearGradient>
<path d="M399.5,272.3 C401.1,272.1 402.1,271.6 403.4,270.3" fill="none" stroke="url(#wg628)" stroke-width="1.25" stroke-linecap="round"/>
<linearGradient id="wg630" gradientUnits="userSpaceOnUse" x1="403.4" y1="270.3" x2="407.3" y2="264.5"><stop offset="0" stop-color="#d82818"/><stop offset="1" stop-color="#d82818"/></linearGradient>
<path d="M403.4,270.3 C404.7,269.0 406.6,266.4 407.3,264.5" fill="none" stroke="url(#wg630)" stroke-width="1.25" stroke-linecap="round"/>
<linearGradient id="wg632" gradientUnits="userSpaceOnUse" x1="407.3" y1="264.5" x2="407.7" y2="258.6"><stop offset="0" stop-color="#d82818"/><stop offset="1" stop-color="#d82818"/></linearGradient>
<path d="M407.3,264.5 C408.0,262.6 407.1,260.2 407.7,258.6" fill="none" stroke="url(#wg632)" stroke-width="1.25" stroke-linecap="round"/>
<linearGradient id="wg634" gradientUnits="userSpaceOnUse" x1="407.7" y1="258.6" x2="411.2" y2="254.7"><stop offset="0" stop-color="#d82818"/><stop offset="1" stop-color="#d82818"/></linearGradient>
<path d="M407.7,258.6 C408.3,257.0 409.8,255.2 411.2,254.7" fill="none" stroke="url(#wg634)" stroke-width="1.25" stroke-linecap="round"/>
<linearGradient id="wg636" gradientUnits="userSpaceOnUse" x1="411.2" y1="254.7" x2="416.1" y2="255.7"><stop offset="0" stop-color="#d82818"/><stop offset="1" stop-color="#d82818"/></linearGradient>
<path d="M411.2,254.7 C412.6,254.2 414.9,255.2 416.1,255.7" fill="none" stroke="url(#wg636)" stroke-width="1.25" stroke-linecap="round"/>
<linearGradient id="wg638" gradientUnits="userSpaceOnUse" x1="416.1" y1="255.7" x2="418.6" y2="257.7"><stop offset="0" stop-color="#d82818"/><stop offset="1" stop-color="#d82818"/></linearGradient>
<path d="M416.1,255.7 C417.3,256.2 418.2,257.4 418.6,257.7" fill="none" stroke="url(#wg638)" stroke-width="1.25" stroke-linecap="round"/>
</g>
<ellipse cx="304.9" cy="325.3" rx="5.4" ry="1.9" fill="#0c12f4" transform="rotate(-30 304.9 325.3)" filter="url(#bn)"/>
<ellipse cx="294.6" cy="332.4" rx="3" ry="1.4" fill="#0c12f4" transform="rotate(-10 294.6 332.4)" filter="url(#bn)"/>
<ellipse cx="303.3" cy="335.2" rx="3" ry="0.9" fill="#0c12f4" transform="rotate(-10 303.3 335.2)" filter="url(#bn)"/>
<ellipse cx="331.8" cy="313.4" rx="3.4" ry="1.7" fill="#0c12f4" transform="rotate(-45 331.8 313.4)" filter="url(#bn)"/>
<ellipse cx="345.2" cy="302.0" rx="1.9" ry="1.9" fill="#0c12f4" transform="rotate(0 345.2 302.0)" filter="url(#bn)"/>
<ellipse cx="346.8" cy="322.1" rx="3" ry="1" fill="#0c12f4" transform="rotate(-30 346.8 322.1)" filter="url(#bn)"/>
<ellipse cx="344.4" cy="340.6" rx="2" ry="1.4" fill="#0c12f4" transform="rotate(40 344.4 340.6)" filter="url(#bn)"/>
<ellipse cx="332.5" cy="343.1" rx="1.4" ry="2" fill="#0c12f4" transform="rotate(0 332.5 343.1)" filter="url(#bn)"/>
<ellipse cx="285.8" cy="326.6" rx="1.3" ry="1" fill="#0c12f4" transform="rotate(0 285.8 326.6)" filter="url(#bn)"/>
<ellipse cx="413.2" cy="262.5" rx="2" ry="1.8" fill="#0c12f4" transform="rotate(0 413.2 262.5)" filter="url(#bn)"/>
<ellipse cx="381.0" cy="285.0" rx="1.4" ry="1.3" fill="#0c12f4" transform="rotate(0 381.0 285.0)" filter="url(#bn)"/>
<ellipse cx="401.5" cy="286.3" rx="2.5" ry="1.2" fill="#0c12f4" transform="rotate(-30 401.5 286.3)" filter="url(#bn)"/>
<ellipse cx="383.0" cy="291.7" rx="2" ry="1" fill="#0c12f4" transform="rotate(-10 383.0 291.7)" filter="url(#bn)"/>
<ellipse cx="405.4" cy="301.9" rx="1.2" ry="2.5" fill="#0c12f4" transform="rotate(0 405.4 301.9)" filter="url(#bn)"/>
<ellipse cx="413.2" cy="303.4" rx="1.5" ry="1" fill="#0c12f4" transform="rotate(0 413.2 303.4)" filter="url(#bn)"/>
<ellipse cx="396.0" cy="309.3" rx="2.5" ry="1.2" fill="#0c12f4" transform="rotate(-30 396.0 309.3)" filter="url(#bn)"/>
<ellipse cx="417.0" cy="282.0" rx="1.4" ry="1.4" fill="#0c12f4" transform="rotate(0 417.0 282.0)" filter="url(#bn)"/>
<ellipse cx="347.0" cy="303.0" rx="1.4" ry="1.4" fill="#0c12f4" transform="rotate(0 347.0 303.0)" filter="url(#bn)"/>
<ellipse cx="323.4" cy="334.2" rx="2.4" ry="1.1" fill="#0c12f4" transform="rotate(-5 323.4 334.2)" filter="url(#bn)"/>
<ellipse cx="331.3" cy="341.7" rx="2.6" ry="1.2" fill="#0c12f4" transform="rotate(-5 331.3 341.7)" filter="url(#bn)"/>
<ellipse cx="343.1" cy="343.7" rx="2.4" ry="1.1" fill="#0c12f4" transform="rotate(-5 343.1 343.7)" filter="url(#bn)"/>
<ellipse cx="307.6" cy="347.6" rx="2.4" ry="1.2" fill="#0c12f4" transform="rotate(0 307.6 347.6)" filter="url(#bn)"/>
<ellipse cx="319.4" cy="351.6" rx="2.6" ry="1.2" fill="#0c12f4" transform="rotate(0 319.4 351.6)" filter="url(#bn)"/>
<ellipse cx="295.8" cy="355.5" rx="2.6" ry="1.3" fill="#0c12f4" transform="rotate(0 295.8 355.5)" filter="url(#bn)"/>
<ellipse cx="354.1" cy="324.4" rx="2" ry="1" fill="#0c12f4" transform="rotate(-10 354.1 324.4)" filter="url(#bn)"/>
<ellipse cx="361.0" cy="312.0" rx="2" ry="1" fill="#0c12f4" transform="rotate(-20 361.0 312.0)" filter="url(#bn)"/>
<ellipse cx="372.0" cy="318.0" rx="2" ry="1" fill="#0c12f4" transform="rotate(-20 372.0 318.0)" filter="url(#bn)"/>
<ellipse cx="390.0" cy="300.0" rx="2" ry="1" fill="#0c12f4" transform="rotate(-30 390.0 300.0)" filter="url(#bn)"/>
<ellipse cx="411.0" cy="292.0" rx="1.6" ry="1" fill="#0c12f4" transform="rotate(-30 411.0 292.0)" filter="url(#bn)"/>
<ellipse cx="382.3" cy="285.6" rx="0.9" ry="0.9" fill="#ff1a10" transform="rotate(0 382.3 285.6)" filter="url(#bn)"/>
</g>
<rect x="365" y="316.5" width="51.8" height="54.5" fill="#000" stroke="#d4d4d4" stroke-width="1.1" rx="1"/>
<path d="M381.4,348.2 L382,347.6 M385.7,347.2 Q387.8,347 388.9,344.9 M394.8,343.5 L395.4,342.9 M400.3,341.6 Q399.8,339.8 401,338.2 M406.8,333.4 L408.4,333.1" fill="none" stroke="#6aa22c" stroke-width="0.9" stroke-linecap="round" opacity="0.9"/>
<line x1="458.00" y1="234.60" x2="458.00" y2="340.80" stroke="#111" stroke-width="1.3"/>
<line x1="455.30" y1="340.20" x2="512.00" y2="340.20" stroke="#111" stroke-width="1.3"/>
<text x="452.4" y="343.20" font-size="8.5" fill="#111" stroke="#111" text-anchor="end" textLength="4.3" lengthAdjust="spacingAndGlyphs">0</text>
<line x1="455.30" y1="305.90" x2="458.00" y2="305.90" stroke="#111" stroke-width="1"/>
<text x="452.4" y="308.90" font-size="8.5" fill="#111" stroke="#111" text-anchor="end" textLength="17.2" lengthAdjust="spacingAndGlyphs">2000</text>
<line x1="455.30" y1="271.60" x2="458.00" y2="271.60" stroke="#111" stroke-width="1"/>
<text x="452.4" y="274.60" font-size="8.5" fill="#111" stroke="#111" text-anchor="end" textLength="17.2" lengthAdjust="spacingAndGlyphs">4000</text>
<line x1="455.30" y1="237.30" x2="458.00" y2="237.30" stroke="#111" stroke-width="1"/>
<text x="452.4" y="240.30" font-size="8.5" fill="#111" stroke="#111" text-anchor="end" textLength="17.2" lengthAdjust="spacingAndGlyphs">6000</text>
<line x1="469.80" y1="243.70" x2="469.80" y2="253.24" stroke="#222" stroke-width="0.9"/>
<line x1="466.80" y1="243.70" x2="472.80" y2="243.70" stroke="#222" stroke-width="0.9"/>
<rect x="464.40" y="252.74" width="10.80" height="87.46" fill="#a6092f" />
<line x1="486.50" y1="260.40" x2="486.50" y2="268.67" stroke="#222" stroke-width="0.9"/>
<line x1="483.50" y1="260.40" x2="489.50" y2="260.40" stroke="#222" stroke-width="0.9"/>
<rect x="481.10" y="268.17" width="10.80" height="72.03" fill="#4f2667" />
<line x1="503.05" y1="300.70" x2="503.05" y2="305.03" stroke="#222" stroke-width="0.9"/>
<line x1="500.45" y1="300.70" x2="505.65" y2="300.70" stroke="#222" stroke-width="0.9"/>
<rect x="497.70" y="304.53" width="10.70" height="35.67" fill="#6aae44" />
<line x1="468.30" y1="238.20" x2="504.60" y2="238.20" stroke="#3a3a3a" stroke-width="1.3"/>
<line x1="484.70" y1="253.00" x2="504.80" y2="253.00" stroke="#3a3a3a" stroke-width="1.3"/>
<text x="486.1" y="235.7" font-size="8" fill="#333" stroke="#333" text-anchor="middle" letter-spacing="0.2">***</text>
<text x="495" y="250.3" font-size="8" fill="#333" stroke="#333" text-anchor="middle" letter-spacing="0.2">***</text>
<text transform="translate(428.40,322.80) rotate(-90)" font-size="7.8" fill="#111" stroke="#111" textLength="70.80" lengthAdjust="spacingAndGlyphs">VCAM-1 (green pixel)</text>
<rect x="456.70" y="344.50" width="5.80" height="5.60" fill="#a6092f" />
<text x="465.90" y="349.50" font-size="7.7" fill="#111" stroke="#111" textLength="42.20" lengthAdjust="spacingAndGlyphs" >SS Normoxia</text>
<rect x="456.70" y="355.50" width="5.80" height="5.60" fill="#4f2667" />
<text x="465.90" y="360.40" font-size="7.7" fill="#111" stroke="#111" textLength="37.70" lengthAdjust="spacingAndGlyphs" >H/R Vehicle</text>
<rect x="456.70" y="366.40" width="5.80" height="5.60" fill="#6aae44" />
<text x="465.90" y="371.50" font-size="7.7" fill="#111" stroke="#111" textLength="46.70" lengthAdjust="spacingAndGlyphs" >H/R 17R-RvD1</text>
<rect x="0.5" y="0.5" width="519" height="379" fill="none" stroke="#000" stroke-width="1.2"/>
</svg>
</body></html>
